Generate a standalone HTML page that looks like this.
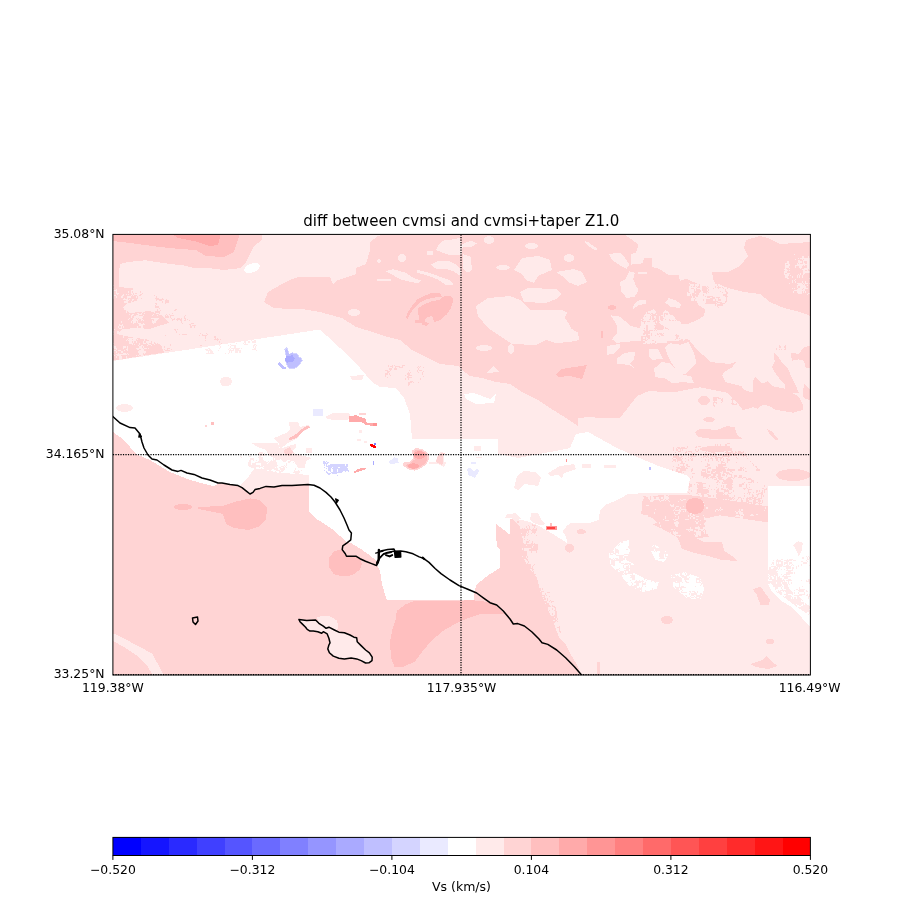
<!DOCTYPE html>
<html lang="en"><head><meta charset="utf-8"><title>diff between cvmsi and cvmsi+taper Z1.0</title>
<style>html,body{margin:0;padding:0;background:#fff;}body{width:900px;height:900px;overflow:hidden;}svg{display:block;}text{font-family:"DejaVu Sans","Liberation Sans",sans-serif;fill:#000;}</style></head><body>
<svg width="900" height="900" viewBox="0 0 900 900">
<rect x="0" y="0" width="900" height="900" fill="#ffffff"/>
<defs><filter id="gr" filterUnits="userSpaceOnUse" x="0" y="0" width="900" height="900" color-interpolation-filters="sRGB"><feColorMatrix type="saturate" values="0"/></filter></defs>
<defs><clipPath id="ax"><rect x="112.9" y="234.4" width="697.5" height="440.6"/></clipPath></defs>
<g clip-path="url(#ax)" shape-rendering="crispEdges">
<rect x="112.9" y="234.4" width="697.5" height="440.6" fill="#ffeaea"/>
<polygon points="113,432 124,440 136,454 150,460 170,472 190,480 214,486.4 218,483.6 222,483 230,484.4 238,485.6 242,487.6 247,491.6 250,494 253,492.4 255,489.6 260,488.4 266,486.4 274,487 282,485.6 292,485.6 300,485 309,484.6 400,500 497,500 513,520 520,527 523,540 522,556 528,566 537,578.8 541,593.3 547.8,609 554.4,624.4 559,637.8 565.6,644.4 570,653.3 576.7,664.4 582,676 113,676" fill="#ffd4d4"/>
<polygon points="113,234 262,234 262,240 254,246 248,258 245.1,263.8 239.8,268.2 223.8,270 209.6,268.2 195.3,268.2 184.7,265.6 168.7,263.8 156.2,262 145.6,260.2 127.8,262 120.7,263.8 119,270 119,287 137,289 138,300 126,304 123,308 130,313 150,311 163,316 169,323 155,327 150,329 137,328 123,329 117,334 130,337 150,340 161,345 164,352.5 113,360.5" fill="#ffd4d4"/>
<path d="M113.0 285.0h1.2v1.30h-1.2zM113.0 287.5h1.2v1.30h-1.2zM115.5 288.8h1.2v1.30h-1.2zM133.0 288.8h3.8v1.30h-3.8zM113.0 290.0h3.8v1.30h-3.8zM130.5 290.0h6.2v1.30h-6.2zM113.0 291.2h1.2v1.30h-1.2zM115.5 291.2h1.2v1.30h-1.2zM128.0 291.2h1.2v1.30h-1.2zM130.5 291.2h1.2v1.30h-1.2zM133.0 291.2h3.8v1.30h-3.8zM113.0 292.5h1.2v1.30h-1.2zM115.5 292.5h3.8v1.30h-3.8zM130.5 292.5h2.5v1.30h-2.5zM134.2 292.5h1.2v1.30h-1.2zM113.0 293.8h1.2v1.30h-1.2zM116.8 293.8h1.2v1.30h-1.2zM123.0 293.8h1.2v1.30h-1.2zM125.5 293.8h1.2v1.30h-1.2zM128.0 293.8h1.2v1.30h-1.2zM131.8 293.8h1.2v1.30h-1.2zM134.2 293.8h3.8v1.30h-3.8zM113.0 295.0h2.5v1.30h-2.5zM121.8 295.0h2.5v1.30h-2.5zM130.5 295.0h1.2v1.30h-1.2zM133.0 295.0h1.2v1.30h-1.2zM136.8 295.0h1.2v1.30h-1.2zM113.0 296.2h1.2v1.30h-1.2zM115.5 296.2h1.2v1.30h-1.2zM120.5 296.2h2.5v1.30h-2.5zM126.8 296.2h3.8v1.30h-3.8zM135.5 296.2h1.2v1.30h-1.2zM113.0 297.5h1.2v1.30h-1.2zM124.2 297.5h1.2v1.30h-1.2zM126.8 297.5h1.2v1.30h-1.2zM123.0 298.8h5.0v1.30h-5.0zM129.2 298.8h1.2v1.30h-1.2zM131.8 298.8h2.5v1.30h-2.5zM136.8 298.8h1.2v1.30h-1.2zM125.5 300.0h3.8v1.30h-3.8zM131.8 300.0h1.2v1.30h-1.2zM124.2 301.2h3.8v1.30h-3.8zM130.5 301.2h1.2v1.30h-1.2zM126.8 302.5h1.2v1.30h-1.2zM124.2 308.8h1.2v1.30h-1.2zM125.5 311.2h1.2v1.30h-1.2zM141.8 311.2h1.2v1.30h-1.2zM136.8 312.5h2.5v1.30h-2.5zM140.5 312.5h1.2v1.30h-1.2zM144.2 312.5h1.2v1.30h-1.2zM129.2 313.8h1.2v1.30h-1.2zM131.8 313.8h2.5v1.30h-2.5zM138.0 313.8h3.8v1.30h-3.8zM153.0 313.8h1.2v1.30h-1.2zM130.5 315.0h2.5v1.30h-2.5zM135.5 315.0h3.8v1.30h-3.8zM143.0 315.0h1.2v1.30h-1.2zM151.8 315.0h1.2v1.30h-1.2zM156.8 315.0h1.2v1.30h-1.2zM130.5 316.2h1.2v1.30h-1.2zM134.2 316.2h8.8v1.30h-8.8zM129.2 317.5h1.2v1.30h-1.2zM133.0 317.5h2.5v1.30h-2.5zM136.8 317.5h1.2v1.30h-1.2zM139.2 317.5h2.5v1.30h-2.5zM150.5 317.5h8.8v1.30h-8.8zM128.0 318.8h1.2v1.30h-1.2zM133.0 318.8h3.8v1.30h-3.8zM138.0 318.8h1.2v1.30h-1.2zM140.5 318.8h2.5v1.30h-2.5zM154.2 318.8h3.8v1.30h-3.8zM131.8 320.0h6.2v1.30h-6.2zM140.5 320.0h1.2v1.30h-1.2zM143.0 320.0h1.2v1.30h-1.2zM151.8 320.0h1.2v1.30h-1.2zM154.2 320.0h2.5v1.30h-2.5zM120.5 321.2h1.2v1.30h-1.2zM130.5 321.2h1.2v1.30h-1.2zM133.0 321.2h2.5v1.30h-2.5zM136.8 321.2h1.2v1.30h-1.2zM151.8 321.2h3.8v1.30h-3.8zM133.0 322.5h1.2v1.30h-1.2zM138.0 322.5h2.5v1.30h-2.5zM143.0 322.5h1.2v1.30h-1.2zM153.0 322.5h1.2v1.30h-1.2zM119.2 323.8h1.2v1.30h-1.2zM121.8 323.8h1.2v1.30h-1.2zM139.2 323.8h6.2v1.30h-6.2zM119.2 325.0h3.8v1.30h-3.8zM139.2 325.0h3.8v1.30h-3.8zM118.0 326.2h1.2v1.30h-1.2zM120.5 326.2h1.2v1.30h-1.2zM123.0 326.2h1.2v1.30h-1.2zM136.8 326.2h1.2v1.30h-1.2zM140.5 326.2h2.5v1.30h-2.5zM119.2 327.5h2.5v1.30h-2.5zM133.0 327.5h2.5v1.30h-2.5zM138.0 327.5h2.5v1.30h-2.5zM141.8 327.5h1.2v1.30h-1.2zM114.2 328.8h1.2v1.30h-1.2zM121.8 328.8h1.2v1.30h-1.2zM113.0 331.2h1.2v1.30h-1.2zM116.8 331.2h2.5v1.30h-2.5zM116.8 332.5h1.2v1.30h-1.2zM113.0 333.8h1.2v1.30h-1.2zM123.0 336.2h1.2v1.30h-1.2zM128.0 337.5h8.8v1.30h-8.8zM126.8 338.8h1.2v1.30h-1.2zM129.2 338.8h2.5v1.30h-2.5zM133.0 338.8h2.5v1.30h-2.5zM136.8 338.8h1.2v1.30h-1.2zM144.2 338.8h1.2v1.30h-1.2zM125.5 340.0h1.2v1.30h-1.2zM128.0 340.0h7.5v1.30h-7.5zM144.2 340.0h1.2v1.30h-1.2zM149.2 340.0h2.5v1.30h-2.5zM129.2 341.2h2.5v1.30h-2.5zM133.0 341.2h1.2v1.30h-1.2zM135.5 341.2h1.2v1.30h-1.2zM143.0 341.2h1.2v1.30h-1.2zM145.5 341.2h5.0v1.30h-5.0zM151.8 341.2h2.5v1.30h-2.5zM113.0 342.5h1.2v1.30h-1.2zM129.2 342.5h3.8v1.30h-3.8zM139.2 342.5h1.2v1.30h-1.2zM143.0 342.5h2.5v1.30h-2.5zM146.8 342.5h2.5v1.30h-2.5zM151.8 342.5h2.5v1.30h-2.5zM155.5 342.5h1.2v1.30h-1.2zM131.8 343.8h1.2v1.30h-1.2zM134.2 343.8h1.2v1.30h-1.2zM139.2 343.8h1.2v1.30h-1.2zM148.0 343.8h2.5v1.30h-2.5zM154.2 343.8h1.2v1.30h-1.2zM113.0 345.0h1.2v1.30h-1.2zM138.0 345.0h1.2v1.30h-1.2zM140.5 345.0h2.5v1.30h-2.5zM146.8 345.0h1.2v1.30h-1.2zM150.5 345.0h1.2v1.30h-1.2zM113.0 346.2h2.5v1.30h-2.5zM123.0 346.2h2.5v1.30h-2.5zM126.8 346.2h1.2v1.30h-1.2zM139.2 346.2h2.5v1.30h-2.5zM143.0 346.2h1.2v1.30h-1.2zM114.2 347.5h2.5v1.30h-2.5zM123.0 347.5h1.2v1.30h-1.2zM126.8 347.5h1.2v1.30h-1.2zM135.5 347.5h7.5v1.30h-7.5zM144.2 347.5h2.5v1.30h-2.5zM148.0 347.5h1.2v1.30h-1.2zM115.5 348.8h1.2v1.30h-1.2zM125.5 348.8h2.5v1.30h-2.5zM136.8 348.8h2.5v1.30h-2.5zM140.5 348.8h3.8v1.30h-3.8zM113.0 350.0h2.5v1.30h-2.5zM118.0 350.0h2.5v1.30h-2.5zM124.2 350.0h1.2v1.30h-1.2zM126.8 350.0h1.2v1.30h-1.2zM139.2 350.0h5.0v1.30h-5.0zM113.0 351.2h1.2v1.30h-1.2zM115.5 351.2h1.2v1.30h-1.2zM120.5 351.2h2.5v1.30h-2.5zM138.0 351.2h7.5v1.30h-7.5zM118.0 352.5h1.2v1.30h-1.2zM123.0 352.5h2.5v1.30h-2.5zM126.8 352.5h1.2v1.30h-1.2zM139.2 352.5h3.8v1.30h-3.8zM144.2 352.5h1.2v1.30h-1.2zM113.0 353.8h1.2v1.30h-1.2zM115.5 353.8h11.2v1.30h-11.2zM128.0 353.8h1.2v1.30h-1.2zM139.2 353.8h3.8v1.30h-3.8zM114.2 355.0h1.2v1.30h-1.2zM116.8 355.0h3.8v1.30h-3.8zM135.5 355.0h1.2v1.30h-1.2zM138.0 355.0h1.2v1.30h-1.2zM140.5 355.0h3.8v1.30h-3.8zM115.5 356.2h1.2v1.30h-1.2zM119.2 356.2h2.5v1.30h-2.5zM125.5 356.2h1.2v1.30h-1.2zM119.2 357.5h2.5v1.30h-2.5z" fill="#ffeaea"/>
<path d="M139.8 291.2h1.2v1.30h-1.2zM142.2 292.5h1.2v1.30h-1.2zM139.8 293.8h2.5v1.30h-2.5zM138.5 295.0h2.5v1.30h-2.5zM153.5 295.0h1.2v1.30h-1.2zM156.0 296.2h1.2v1.30h-1.2zM141.0 297.5h1.2v1.30h-1.2zM154.8 297.5h3.8v1.30h-3.8zM162.2 297.5h1.2v1.30h-1.2zM156.0 298.8h7.5v1.30h-7.5zM166.0 298.8h1.2v1.30h-1.2zM156.0 300.0h1.2v1.30h-1.2zM158.5 300.0h3.8v1.30h-3.8zM164.8 300.0h3.8v1.30h-3.8zM162.2 301.2h1.2v1.30h-1.2zM164.8 301.2h3.8v1.30h-3.8zM154.8 302.5h2.5v1.30h-2.5zM164.8 302.5h1.2v1.30h-1.2zM156.0 303.8h1.2v1.30h-1.2zM154.8 305.0h1.2v1.30h-1.2zM154.8 306.2h3.8v1.30h-3.8zM158.5 307.5h1.2v1.30h-1.2zM157.2 308.8h1.2v1.30h-1.2zM174.8 308.8h2.5v1.30h-2.5zM157.2 310.0h1.2v1.30h-1.2zM159.8 310.0h1.2v1.30h-1.2zM173.5 310.0h2.5v1.30h-2.5zM154.8 311.2h5.0v1.30h-5.0zM158.5 312.5h1.2v1.30h-1.2zM172.2 312.5h1.2v1.30h-1.2zM166.0 313.8h1.2v1.30h-1.2zM168.5 313.8h1.2v1.30h-1.2zM164.8 315.0h1.2v1.30h-1.2zM167.2 315.0h1.2v1.30h-1.2zM169.8 315.0h3.8v1.30h-3.8zM184.8 315.0h1.2v1.30h-1.2zM164.8 316.2h3.8v1.30h-3.8zM169.8 316.2h1.2v1.30h-1.2zM183.5 316.2h1.2v1.30h-1.2zM171.0 317.5h1.2v1.30h-1.2zM173.5 317.5h1.2v1.30h-1.2zM177.2 317.5h2.5v1.30h-2.5zM181.0 317.5h1.2v1.30h-1.2zM183.5 317.5h2.5v1.30h-2.5zM172.2 318.8h2.5v1.30h-2.5zM176.0 318.8h6.2v1.30h-6.2zM184.8 318.8h1.2v1.30h-1.2zM187.2 318.8h1.2v1.30h-1.2zM172.2 320.0h1.2v1.30h-1.2zM177.2 320.0h1.2v1.30h-1.2zM179.8 320.0h2.5v1.30h-2.5zM183.5 320.0h2.5v1.30h-2.5zM188.5 320.0h1.2v1.30h-1.2zM181.0 321.2h1.2v1.30h-1.2zM182.2 322.5h1.2v1.30h-1.2zM191.0 322.5h2.5v1.30h-2.5zM188.5 323.8h2.5v1.30h-2.5zM189.8 325.0h1.2v1.30h-1.2zM192.2 325.0h3.8v1.30h-3.8zM189.8 326.2h2.5v1.30h-2.5zM193.5 326.2h1.2v1.30h-1.2zM173.5 328.8h2.5v1.30h-2.5zM177.2 328.8h1.2v1.30h-1.2zM174.8 330.0h1.2v1.30h-1.2zM176.0 331.2h1.2v1.30h-1.2zM199.8 332.5h1.2v1.30h-1.2zM206.0 332.5h1.2v1.30h-1.2zM178.5 333.8h1.2v1.30h-1.2zM182.2 333.8h5.0v1.30h-5.0zM202.2 333.8h1.2v1.30h-1.2zM207.2 333.8h1.2v1.30h-1.2zM164.8 335.0h1.2v1.30h-1.2zM198.5 335.0h1.2v1.30h-1.2zM202.2 335.0h5.0v1.30h-5.0zM204.8 336.2h1.2v1.30h-1.2zM213.5 336.2h2.5v1.30h-2.5zM204.8 337.5h1.2v1.30h-1.2zM214.8 337.5h1.2v1.30h-1.2zM217.2 337.5h1.2v1.30h-1.2zM213.5 338.8h5.0v1.30h-5.0zM219.8 338.8h1.2v1.30h-1.2zM204.8 340.0h1.2v1.30h-1.2zM217.2 340.0h1.2v1.30h-1.2zM218.5 341.2h1.2v1.30h-1.2zM221.0 342.5h1.2v1.30h-1.2zM169.8 343.8h1.2v1.30h-1.2zM169.8 345.0h1.2v1.30h-1.2zM199.8 345.0h2.5v1.30h-2.5zM163.5 346.2h1.2v1.30h-1.2zM167.2 347.5h2.5v1.30h-2.5zM163.5 348.8h1.2v1.30h-1.2zM167.2 348.8h1.2v1.30h-1.2zM171.0 348.8h1.2v1.30h-1.2zM164.8 350.0h5.0v1.30h-5.0z" fill="#ffd4d4"/>
<polygon points="384,234 624,234 633.3,240.7 638.7,244.7 636,252.7 630.7,254 630.7,264.7 642.7,263.3 644,258 652,258 652,266.7 660,269.3 668,274.7 678.7,275.3 680,280.7 686.7,278.7 693.3,282 700,284.7 700.7,291.3 696,300 698.7,305.3 705.3,309.3 704,316 697.3,320 690.7,322.7 684,326 680,322.7 666.7,320 658.7,322.7 666.7,328 673.3,332 680,336 689.3,340 694,346 700,352.7 705.3,356.7 710.7,362 729.3,364 736,362 732,367.3 725.3,371.3 722,375.3 725.3,382 741.3,386 744,390 753.3,392.7 756,400.7 753.3,407.3 742.7,410 738.7,404.7 726.7,392.7 713.3,390 700,387.3 690,389 673,392.5 649,391 637,396 620,418 600,418 590,417 578,418 578,426 566,418 550,408 538,400 522,392 510,384 496,382 482,378 470,376 462,370 458,366 440,364 424,356 412,350 400,340 384,336 366,330 356,327 342,318 320,312 302,309 290,309 274,308 264,302 268,292 282,284 290,280 298,277 330,277 333,284 338,280 356,274 356,268 366,264 370,250 370,242 378,236" fill="#ffd4d4"/>
<polygon points="810.5,242 780,244 768,238 760,236 746,240 744,248 748,256 740,266 728,272 712,272 714,282 728,288 744,292 760,294 770,302 784,308 800,312 810.5,316" fill="#ffd4d4"/>
<path d="M794.0 253.8h1.2v1.30h-1.2zM801.5 256.2h2.5v1.30h-2.5zM807.8 256.2h1.2v1.30h-1.2zM797.8 257.5h1.2v1.30h-1.2zM800.2 257.5h10.0v1.30h-10.0zM795.2 258.8h1.2v1.30h-1.2zM801.5 258.8h1.2v1.30h-1.2zM804.0 258.8h6.2v1.30h-6.2zM797.8 260.0h2.5v1.30h-2.5zM802.8 260.0h7.5v1.30h-7.5zM786.5 261.2h2.5v1.30h-2.5zM797.8 261.2h3.8v1.30h-3.8zM802.8 261.2h1.2v1.30h-1.2zM806.5 261.2h3.8v1.30h-3.8zM785.2 262.5h3.8v1.30h-3.8zM796.5 262.5h1.2v1.30h-1.2zM799.0 262.5h1.2v1.30h-1.2zM802.8 262.5h2.5v1.30h-2.5zM806.5 262.5h3.8v1.30h-3.8zM785.2 263.8h1.2v1.30h-1.2zM787.8 263.8h2.5v1.30h-2.5zM796.5 263.8h13.8v1.30h-13.8zM785.2 265.0h5.0v1.30h-5.0zM795.2 265.0h7.5v1.30h-7.5zM804.0 265.0h1.2v1.30h-1.2zM806.5 265.0h3.8v1.30h-3.8zM785.2 266.2h3.8v1.30h-3.8zM795.2 266.2h1.2v1.30h-1.2zM799.0 266.2h2.5v1.30h-2.5zM806.5 266.2h3.8v1.30h-3.8zM785.2 267.5h1.2v1.30h-1.2zM789.0 267.5h1.2v1.30h-1.2zM800.2 267.5h1.2v1.30h-1.2zM804.0 267.5h6.2v1.30h-6.2zM784.0 268.8h2.5v1.30h-2.5zM801.5 268.8h6.2v1.30h-6.2zM809.0 268.8h1.2v1.30h-1.2zM785.2 270.0h2.5v1.30h-2.5zM789.0 270.0h1.2v1.30h-1.2zM802.8 270.0h2.5v1.30h-2.5zM806.5 270.0h1.2v1.30h-1.2zM784.0 271.2h2.5v1.30h-2.5zM802.8 271.2h7.5v1.30h-7.5zM784.0 272.5h1.2v1.30h-1.2zM786.5 272.5h3.8v1.30h-3.8zM800.2 272.5h1.2v1.30h-1.2zM802.8 272.5h2.5v1.30h-2.5zM784.0 273.8h5.0v1.30h-5.0zM797.8 273.8h1.2v1.30h-1.2zM800.2 273.8h1.2v1.30h-1.2zM802.8 273.8h1.2v1.30h-1.2zM785.2 275.0h3.8v1.30h-3.8zM790.2 275.0h1.2v1.30h-1.2zM796.5 275.0h1.2v1.30h-1.2zM799.0 275.0h1.2v1.30h-1.2zM801.5 275.0h1.2v1.30h-1.2zM785.2 276.2h2.5v1.30h-2.5zM791.5 276.2h1.2v1.30h-1.2zM796.5 276.2h1.2v1.30h-1.2zM799.0 276.2h1.2v1.30h-1.2zM801.5 276.2h1.2v1.30h-1.2zM786.5 277.5h2.5v1.30h-2.5zM809.0 277.5h1.2v1.30h-1.2zM795.2 278.8h1.2v1.30h-1.2zM791.5 280.0h1.2v1.30h-1.2zM794.0 280.0h1.2v1.30h-1.2zM791.5 281.2h1.2v1.30h-1.2zM795.2 281.2h1.2v1.30h-1.2zM801.5 281.2h1.2v1.30h-1.2zM805.2 281.2h1.2v1.30h-1.2zM789.0 282.5h1.2v1.30h-1.2zM796.5 282.5h5.0v1.30h-5.0zM802.8 282.5h1.2v1.30h-1.2zM805.2 282.5h2.5v1.30h-2.5zM809.0 282.5h1.2v1.30h-1.2zM797.8 283.8h5.0v1.30h-5.0zM804.0 283.8h1.2v1.30h-1.2zM796.5 285.0h8.8v1.30h-8.8zM806.5 285.0h1.2v1.30h-1.2zM796.5 286.2h1.2v1.30h-1.2zM800.2 286.2h6.2v1.30h-6.2zM791.5 287.5h1.2v1.30h-1.2zM794.0 287.5h1.2v1.30h-1.2zM797.8 287.5h5.0v1.30h-5.0zM804.0 287.5h3.8v1.30h-3.8zM796.5 288.8h5.0v1.30h-5.0zM802.8 288.8h2.5v1.30h-2.5zM794.0 290.0h11.2v1.30h-11.2zM792.8 291.2h1.2v1.30h-1.2zM796.5 291.2h5.0v1.30h-5.0zM802.8 291.2h1.2v1.30h-1.2zM805.2 291.2h1.2v1.30h-1.2zM797.8 292.5h3.8v1.30h-3.8zM807.8 292.5h2.5v1.30h-2.5zM806.5 293.8h1.2v1.30h-1.2z" fill="#ffeaea"/>
<path d="M688.5 283.0h1.2v1.30h-1.2zM689.8 284.2h3.8v1.30h-3.8zM694.8 284.2h3.8v1.30h-3.8zM688.5 285.5h2.5v1.30h-2.5zM692.2 285.5h1.2v1.30h-1.2zM694.8 285.5h1.2v1.30h-1.2zM697.2 285.5h1.2v1.30h-1.2zM688.5 286.8h8.8v1.30h-8.8zM688.5 288.0h2.5v1.30h-2.5zM693.5 288.0h2.5v1.30h-2.5zM697.2 288.0h2.5v1.30h-2.5zM688.5 289.2h5.0v1.30h-5.0zM694.8 289.2h1.2v1.30h-1.2zM688.5 290.5h5.0v1.30h-5.0zM687.2 291.8h1.2v1.30h-1.2zM689.8 291.8h3.8v1.30h-3.8zM687.2 293.0h5.0v1.30h-5.0zM694.8 293.0h1.2v1.30h-1.2zM687.2 294.2h2.5v1.30h-2.5zM691.0 294.2h1.2v1.30h-1.2zM692.2 295.5h1.2v1.30h-1.2zM694.8 295.5h1.2v1.30h-1.2zM692.2 296.8h1.2v1.30h-1.2zM694.8 296.8h2.5v1.30h-2.5zM691.0 298.0h3.8v1.30h-3.8zM696.0 298.0h1.2v1.30h-1.2zM691.0 299.2h2.5v1.30h-2.5zM694.8 299.2h1.2v1.30h-1.2z" fill="#ffeaea"/>
<path d="M652.5 308.7h1.2v1.30h-1.2zM651.2 309.9h3.8v1.30h-3.8zM665.0 309.9h1.2v1.30h-1.2zM647.5 311.2h8.8v1.30h-8.8zM663.8 311.2h3.8v1.30h-3.8zM646.2 312.4h1.2v1.30h-1.2zM650.0 312.4h1.2v1.30h-1.2zM652.5 312.4h2.5v1.30h-2.5zM662.5 312.4h1.2v1.30h-1.2zM667.5 312.4h1.2v1.30h-1.2zM645.0 313.7h5.0v1.30h-5.0zM651.2 313.7h1.2v1.30h-1.2zM656.2 313.7h1.2v1.30h-1.2zM662.5 313.7h1.2v1.30h-1.2zM665.0 313.7h1.2v1.30h-1.2zM667.5 313.7h2.5v1.30h-2.5zM643.8 314.9h7.5v1.30h-7.5zM661.2 314.9h2.5v1.30h-2.5zM665.0 314.9h7.5v1.30h-7.5zM643.8 316.2h1.2v1.30h-1.2zM646.2 316.2h3.8v1.30h-3.8zM651.2 316.2h1.2v1.30h-1.2zM653.8 316.2h2.5v1.30h-2.5zM658.8 316.2h1.2v1.30h-1.2zM662.5 316.2h1.2v1.30h-1.2zM665.0 316.2h8.8v1.30h-8.8zM642.5 317.4h7.5v1.30h-7.5zM651.2 317.4h1.2v1.30h-1.2zM655.0 317.4h1.2v1.30h-1.2zM658.8 317.4h1.2v1.30h-1.2zM663.8 317.4h11.2v1.30h-11.2zM641.2 318.7h1.2v1.30h-1.2zM643.8 318.7h5.0v1.30h-5.0zM651.2 318.7h1.2v1.30h-1.2zM653.8 318.7h1.2v1.30h-1.2zM658.8 318.7h1.2v1.30h-1.2zM662.5 318.7h2.5v1.30h-2.5zM666.2 318.7h2.5v1.30h-2.5zM670.0 318.7h6.2v1.30h-6.2zM642.5 319.9h11.2v1.30h-11.2zM658.8 319.9h2.5v1.30h-2.5zM662.5 319.9h5.0v1.30h-5.0zM671.2 319.9h1.2v1.30h-1.2zM673.8 319.9h1.2v1.30h-1.2zM676.2 319.9h1.2v1.30h-1.2zM641.2 321.2h1.2v1.30h-1.2zM646.2 321.2h1.2v1.30h-1.2zM650.0 321.2h2.5v1.30h-2.5zM656.2 321.2h1.2v1.30h-1.2zM660.0 321.2h6.2v1.30h-6.2zM667.5 321.2h1.2v1.30h-1.2zM671.2 321.2h8.8v1.30h-8.8zM641.2 322.4h2.5v1.30h-2.5zM645.0 322.4h10.0v1.30h-10.0zM661.2 322.4h1.2v1.30h-1.2zM666.2 322.4h1.2v1.30h-1.2zM671.2 322.4h10.0v1.30h-10.0zM641.2 323.7h15.0v1.30h-15.0zM661.2 323.7h2.5v1.30h-2.5zM665.0 323.7h3.8v1.30h-3.8zM672.5 323.7h15.0v1.30h-15.0zM641.2 324.9h5.0v1.30h-5.0zM647.5 324.9h6.2v1.30h-6.2zM662.5 324.9h2.5v1.30h-2.5zM670.0 324.9h1.2v1.30h-1.2zM672.5 324.9h12.5v1.30h-12.5zM640.0 326.2h6.2v1.30h-6.2zM647.5 326.2h7.5v1.30h-7.5zM671.2 326.2h12.5v1.30h-12.5zM640.0 327.4h3.8v1.30h-3.8zM645.0 327.4h1.2v1.30h-1.2zM647.5 327.4h6.2v1.30h-6.2zM663.8 327.4h1.2v1.30h-1.2zM667.5 327.4h2.5v1.30h-2.5zM671.2 327.4h13.8v1.30h-13.8zM640.0 328.7h6.2v1.30h-6.2zM647.5 328.7h7.5v1.30h-7.5zM656.2 328.7h1.2v1.30h-1.2zM662.5 328.7h5.0v1.30h-5.0zM670.0 328.7h15.0v1.30h-15.0zM640.0 329.9h2.5v1.30h-2.5zM645.0 329.9h1.2v1.30h-1.2zM647.5 329.9h1.2v1.30h-1.2zM652.5 329.9h1.2v1.30h-1.2zM655.0 329.9h1.2v1.30h-1.2zM665.0 329.9h16.2v1.30h-16.2zM682.5 329.9h2.5v1.30h-2.5zM640.0 331.2h3.8v1.30h-3.8zM650.0 331.2h2.5v1.30h-2.5zM653.8 331.2h1.2v1.30h-1.2zM661.2 331.2h1.2v1.30h-1.2zM665.0 331.2h15.0v1.30h-15.0zM681.2 331.2h5.0v1.30h-5.0zM640.0 332.4h2.5v1.30h-2.5zM663.8 332.4h1.2v1.30h-1.2zM666.2 332.4h13.8v1.30h-13.8zM681.2 332.4h1.2v1.30h-1.2zM683.8 332.4h2.5v1.30h-2.5zM640.0 333.7h2.5v1.30h-2.5zM645.0 333.7h1.2v1.30h-1.2zM652.5 333.7h3.8v1.30h-3.8zM658.8 333.7h1.2v1.30h-1.2zM662.5 333.7h13.8v1.30h-13.8zM677.5 333.7h5.0v1.30h-5.0zM683.8 333.7h1.2v1.30h-1.2zM640.0 334.9h6.2v1.30h-6.2zM650.0 334.9h1.2v1.30h-1.2zM653.8 334.9h1.2v1.30h-1.2zM657.5 334.9h3.8v1.30h-3.8zM663.8 334.9h11.2v1.30h-11.2zM678.8 334.9h2.5v1.30h-2.5zM682.5 334.9h2.5v1.30h-2.5zM686.2 334.9h1.2v1.30h-1.2zM640.0 336.2h1.2v1.30h-1.2zM650.0 336.2h1.2v1.30h-1.2zM652.5 336.2h1.2v1.30h-1.2zM656.2 336.2h2.5v1.30h-2.5zM660.0 336.2h2.5v1.30h-2.5zM663.8 336.2h1.2v1.30h-1.2zM666.2 336.2h10.0v1.30h-10.0zM678.8 336.2h3.8v1.30h-3.8zM642.5 337.4h2.5v1.30h-2.5zM646.2 337.4h1.2v1.30h-1.2zM653.8 337.4h6.2v1.30h-6.2zM661.2 337.4h2.5v1.30h-2.5zM665.0 337.4h11.2v1.30h-11.2zM677.5 337.4h1.2v1.30h-1.2zM680.0 337.4h6.2v1.30h-6.2zM648.8 338.7h1.2v1.30h-1.2zM652.5 338.7h10.0v1.30h-10.0zM663.8 338.7h11.2v1.30h-11.2zM676.2 338.7h5.0v1.30h-5.0zM682.5 338.7h2.5v1.30h-2.5zM642.5 339.9h2.5v1.30h-2.5zM648.8 339.9h1.2v1.30h-1.2zM651.2 339.9h1.2v1.30h-1.2zM653.8 339.9h6.2v1.30h-6.2zM661.2 339.9h17.5v1.30h-17.5zM682.5 339.9h1.2v1.30h-1.2z" fill="#ffeaea"/>
<polygon points="665.3,302.7 668.7,298 674.7,300 681.3,304 680,308 670.7,306.7" fill="#ffeaea"/>
<path d="M714.5 283.0h2.5v1.30h-2.5zM717.0 284.2h1.2v1.30h-1.2zM702.0 285.5h3.8v1.30h-3.8zM707.0 285.5h1.2v1.30h-1.2zM714.5 285.5h1.2v1.30h-1.2zM718.2 285.5h1.2v1.30h-1.2zM702.0 286.8h5.0v1.30h-5.0zM708.2 286.8h1.2v1.30h-1.2zM714.5 286.8h1.2v1.30h-1.2zM717.0 286.8h3.8v1.30h-3.8zM722.0 286.8h1.2v1.30h-1.2zM702.0 288.0h6.2v1.30h-6.2zM713.2 288.0h1.2v1.30h-1.2zM718.2 288.0h1.2v1.30h-1.2zM723.2 288.0h1.2v1.30h-1.2zM727.0 288.0h1.2v1.30h-1.2zM702.0 289.2h5.0v1.30h-5.0zM708.2 289.2h1.2v1.30h-1.2zM724.5 289.2h1.2v1.30h-1.2zM703.2 290.5h5.0v1.30h-5.0zM719.5 290.5h1.2v1.30h-1.2zM724.5 290.5h2.5v1.30h-2.5zM703.2 291.8h3.8v1.30h-3.8zM708.2 291.8h1.2v1.30h-1.2zM722.0 291.8h1.2v1.30h-1.2zM725.8 291.8h2.5v1.30h-2.5zM705.8 293.0h1.2v1.30h-1.2zM725.8 293.0h2.5v1.30h-2.5zM703.2 294.2h1.2v1.30h-1.2zM723.2 294.2h3.8v1.30h-3.8zM704.5 295.5h1.2v1.30h-1.2zM707.0 295.5h6.2v1.30h-6.2zM724.5 295.5h3.8v1.30h-3.8zM707.0 296.8h2.5v1.30h-2.5zM712.0 296.8h2.5v1.30h-2.5zM715.8 296.8h3.8v1.30h-3.8zM725.8 296.8h1.2v1.30h-1.2zM709.5 298.0h5.0v1.30h-5.0zM718.2 298.0h1.2v1.30h-1.2zM725.8 298.0h1.2v1.30h-1.2zM703.2 299.2h1.2v1.30h-1.2zM705.8 299.2h7.5v1.30h-7.5zM714.5 299.2h1.2v1.30h-1.2zM718.2 299.2h2.5v1.30h-2.5zM725.8 299.2h1.2v1.30h-1.2zM705.8 300.5h12.5v1.30h-12.5zM724.5 300.5h2.5v1.30h-2.5zM705.8 301.8h10.0v1.30h-10.0zM717.0 301.8h5.0v1.30h-5.0zM724.5 301.8h1.2v1.30h-1.2zM704.5 303.0h12.5v1.30h-12.5zM719.5 303.0h5.0v1.30h-5.0zM714.5 304.2h1.2v1.30h-1.2zM717.0 304.2h6.2v1.30h-6.2zM717.0 305.5h1.2v1.30h-1.2zM718.2 306.8h1.2v1.30h-1.2z" fill="#ffd4d4"/>
<polygon points="752.7,380.7 755.3,377.3 758.7,380.7 762.7,383.3 768,381.3 772,386 785.3,388.7 792,392.7 798.7,396.7 802.7,404.7 802.7,410 793.3,412.7 785.3,411.3 776,410 769.3,406 762.7,404.7 757.3,408.7 753.3,407.3 756,400.7 753.3,392.7" fill="#ffd4d4"/>
<polygon points="774,352.7 778,356.7 782.7,363.3 788,368.7 792,378 796,386 798.7,392.7 792,392.7 785.3,388.7 785.3,384.7 780,379.3 776,374 772,367.3 774.7,362" fill="#ffd4d4"/>
<polygon points="790.7,352.7 798.7,354 804,347.3 810.5,345.3 810.5,368.7 805.3,367.3 804,360.7 798.7,359.3 792,360.7" fill="#ffd4d4"/>
<polygon points="804,383.3 810.5,390 810.5,400 806.7,399.3 802.7,396.7" fill="#ffd4d4"/>
<path d="M778.5 345.0h1.2v1.30h-1.2zM784.8 345.0h1.2v1.30h-1.2zM778.5 346.2h2.5v1.30h-2.5zM783.5 346.2h2.5v1.30h-2.5zM776.0 347.5h1.2v1.30h-1.2zM784.8 347.5h1.2v1.30h-1.2zM776.0 348.8h1.2v1.30h-1.2zM778.5 348.8h1.2v1.30h-1.2zM781.0 348.8h1.2v1.30h-1.2zM783.5 348.8h2.5v1.30h-2.5z" fill="#ffd4d4"/>
<path d="M713.0 396.7h6.2v1.30h-6.2zM713.0 397.9h3.8v1.30h-3.8zM718.0 397.9h2.5v1.30h-2.5zM721.8 397.9h1.2v1.30h-1.2zM713.0 399.2h3.8v1.30h-3.8zM720.5 399.2h2.5v1.30h-2.5zM714.2 400.4h1.2v1.30h-1.2zM721.8 400.4h1.2v1.30h-1.2zM713.0 401.7h3.8v1.30h-3.8zM720.5 401.7h1.2v1.30h-1.2zM713.0 402.9h1.2v1.30h-1.2zM715.5 402.9h1.2v1.30h-1.2zM713.0 404.2h1.2v1.30h-1.2zM714.2 405.4h1.2v1.30h-1.2z" fill="#ffd4d4"/>
<path d="M729.2 394.0h1.2v1.30h-1.2zM739.2 394.0h1.2v1.30h-1.2zM744.2 394.0h1.2v1.30h-1.2zM736.8 395.2h2.5v1.30h-2.5zM741.8 395.2h1.2v1.30h-1.2zM745.5 395.2h1.2v1.30h-1.2zM731.8 396.5h1.2v1.30h-1.2zM739.2 396.5h7.5v1.30h-7.5zM731.8 397.8h1.2v1.30h-1.2zM739.2 397.8h7.5v1.30h-7.5zM730.5 399.0h3.8v1.30h-3.8zM735.5 399.0h1.2v1.30h-1.2zM741.8 399.0h2.5v1.30h-2.5zM745.5 399.0h1.2v1.30h-1.2zM731.8 400.2h1.2v1.30h-1.2zM741.8 400.2h5.0v1.30h-5.0zM731.8 401.5h1.2v1.30h-1.2zM736.8 401.5h1.2v1.30h-1.2zM739.2 401.5h2.5v1.30h-2.5zM744.2 401.5h1.2v1.30h-1.2zM730.5 402.8h3.8v1.30h-3.8zM735.5 402.8h1.2v1.30h-1.2zM739.2 402.8h5.0v1.30h-5.0zM745.5 402.8h1.2v1.30h-1.2zM731.8 404.0h5.0v1.30h-5.0zM743.0 404.0h3.8v1.30h-3.8z" fill="#ffd4d4"/>
<path d="M387.8 364.5h1.2v1.30h-1.2zM391.5 364.5h1.2v1.30h-1.2zM394.0 364.5h1.2v1.30h-1.2zM401.5 364.5h3.8v1.30h-3.8zM387.8 365.8h1.2v1.30h-1.2zM390.2 365.8h2.5v1.30h-2.5zM395.2 365.8h5.0v1.30h-5.0zM401.5 365.8h1.2v1.30h-1.2zM417.8 365.8h1.2v1.30h-1.2zM420.2 365.8h1.2v1.30h-1.2zM391.5 367.0h1.2v1.30h-1.2zM395.2 367.0h1.2v1.30h-1.2zM399.0 367.0h3.8v1.30h-3.8zM416.5 367.0h1.2v1.30h-1.2zM419.0 367.0h1.2v1.30h-1.2zM422.8 367.0h1.2v1.30h-1.2zM389.0 368.2h2.5v1.30h-2.5zM394.0 368.2h2.5v1.30h-2.5zM417.8 368.2h1.2v1.30h-1.2zM385.2 369.5h2.5v1.30h-2.5zM390.2 369.5h1.2v1.30h-1.2zM409.0 369.5h1.2v1.30h-1.2zM416.5 369.5h1.2v1.30h-1.2zM419.0 369.5h2.5v1.30h-2.5zM386.5 370.8h3.8v1.30h-3.8zM416.5 370.8h1.2v1.30h-1.2zM422.8 370.8h1.2v1.30h-1.2zM386.5 372.0h2.5v1.30h-2.5zM407.8 372.0h1.2v1.30h-1.2zM410.2 372.0h1.2v1.30h-1.2zM417.8 372.0h1.2v1.30h-1.2zM421.5 372.0h1.2v1.30h-1.2zM385.2 373.2h2.5v1.30h-2.5zM389.0 373.2h1.2v1.30h-1.2zM406.5 373.2h3.8v1.30h-3.8zM421.5 373.2h1.2v1.30h-1.2zM385.2 374.5h1.2v1.30h-1.2zM390.2 374.5h1.2v1.30h-1.2zM405.2 374.5h1.2v1.30h-1.2zM407.8 374.5h3.8v1.30h-3.8zM385.2 375.8h1.2v1.30h-1.2zM406.5 375.8h2.5v1.30h-2.5zM422.8 375.8h1.2v1.30h-1.2zM386.5 377.0h1.2v1.30h-1.2zM406.5 377.0h5.0v1.30h-5.0zM405.2 378.2h1.2v1.30h-1.2zM407.8 378.2h1.2v1.30h-1.2zM420.2 378.2h1.2v1.30h-1.2zM410.2 380.8h2.5v1.30h-2.5zM407.8 382.0h3.8v1.30h-3.8zM412.8 382.0h1.2v1.30h-1.2zM417.8 382.0h1.2v1.30h-1.2zM407.8 383.2h2.5v1.30h-2.5zM407.8 384.5h1.2v1.30h-1.2z" fill="#ffd4d4"/>
<polygon points="643,495.8 687.6,494.9 720,499 767.6,506.4 767.6,522.4 744.4,518.9 719.6,515.3 703.6,518.9 705.3,529.6 708.9,536.7 700,538 693,537.6 678,537.6 676.9,536.7 662.7,529.6 653.8,518.9 641.3,513.6" fill="#ffd4d4"/>
<polygon points="653,524.4 662,520 706.7,520 702,526.7 691,535.6 704.4,542 722,542 724.4,551 733.3,556.7 737.8,561 722,560 706.7,555.6 695.6,553.3 682,549 677.8,537.8 666.7,531" fill="#ffd4d4"/>
<path d="M663.8 494.9h2.5v1.30h-2.5zM667.5 494.9h1.2v1.30h-1.2zM646.3 496.1h3.8v1.30h-3.8zM651.3 496.1h1.2v1.30h-1.2zM663.8 496.1h3.8v1.30h-3.8zM642.5 497.4h1.2v1.30h-1.2zM647.5 497.4h2.5v1.30h-2.5zM651.3 497.4h2.5v1.30h-2.5zM656.3 497.4h2.5v1.30h-2.5zM661.3 497.4h1.2v1.30h-1.2zM663.8 497.4h5.0v1.30h-5.0zM648.8 498.6h1.2v1.30h-1.2zM651.3 498.6h8.8v1.30h-8.8zM662.5 498.6h2.5v1.30h-2.5zM666.3 498.6h1.2v1.30h-1.2zM680.0 498.6h1.2v1.30h-1.2zM682.5 498.6h3.8v1.30h-3.8zM650.0 499.9h3.8v1.30h-3.8zM658.8 499.9h1.2v1.30h-1.2zM661.3 499.9h2.5v1.30h-2.5zM665.0 499.9h1.2v1.30h-1.2zM667.5 499.9h1.2v1.30h-1.2zM681.3 499.9h1.2v1.30h-1.2zM650.0 501.1h2.5v1.30h-2.5zM660.0 501.1h1.2v1.30h-1.2zM668.8 501.1h1.2v1.30h-1.2zM677.5 501.1h1.2v1.30h-1.2zM701.3 501.1h1.2v1.30h-1.2zM702.5 502.4h1.2v1.30h-1.2zM670.0 503.6h1.2v1.30h-1.2zM672.5 503.6h1.2v1.30h-1.2zM686.3 503.6h1.2v1.30h-1.2zM646.3 504.9h2.5v1.30h-2.5zM670.0 504.9h3.8v1.30h-3.8zM703.8 504.9h1.2v1.30h-1.2zM671.3 506.1h2.5v1.30h-2.5zM676.3 506.1h2.5v1.30h-2.5zM682.5 506.1h1.2v1.30h-1.2zM686.3 506.1h1.2v1.30h-1.2zM675.0 507.4h1.2v1.30h-1.2zM680.0 507.4h1.2v1.30h-1.2zM686.3 507.4h1.2v1.30h-1.2zM696.3 507.4h1.2v1.30h-1.2zM706.3 507.4h1.2v1.30h-1.2zM720.0 507.4h1.2v1.30h-1.2zM765.0 507.4h1.2v1.30h-1.2zM655.0 508.6h1.2v1.30h-1.2zM673.8 508.6h1.2v1.30h-1.2zM678.8 508.6h1.2v1.30h-1.2zM681.3 508.6h5.0v1.30h-5.0zM688.8 508.6h1.2v1.30h-1.2zM716.3 508.6h1.2v1.30h-1.2zM718.8 508.6h1.2v1.30h-1.2zM721.3 508.6h1.2v1.30h-1.2zM738.8 508.6h1.2v1.30h-1.2zM741.3 508.6h1.2v1.30h-1.2zM672.5 509.9h1.2v1.30h-1.2zM675.0 509.9h6.2v1.30h-6.2zM685.0 509.9h1.2v1.30h-1.2zM692.5 509.9h1.2v1.30h-1.2zM696.3 509.9h2.5v1.30h-2.5zM715.0 509.9h1.2v1.30h-1.2zM717.5 509.9h1.2v1.30h-1.2zM720.0 509.9h1.2v1.30h-1.2zM738.8 509.9h1.2v1.30h-1.2zM741.3 509.9h1.2v1.30h-1.2zM763.8 509.9h1.2v1.30h-1.2zM678.8 511.1h2.5v1.30h-2.5zM682.5 511.1h1.2v1.30h-1.2zM685.0 511.1h1.2v1.30h-1.2zM687.5 511.1h2.5v1.30h-2.5zM691.3 511.1h2.5v1.30h-2.5zM695.0 511.1h2.5v1.30h-2.5zM715.0 511.1h1.2v1.30h-1.2zM735.0 511.1h1.2v1.30h-1.2zM737.5 511.1h3.8v1.30h-3.8zM653.8 512.4h1.2v1.30h-1.2zM673.8 512.4h1.2v1.30h-1.2zM677.5 512.4h2.5v1.30h-2.5zM690.0 512.4h3.8v1.30h-3.8zM736.3 512.4h1.2v1.30h-1.2zM738.8 512.4h3.8v1.30h-3.8zM675.0 513.6h2.5v1.30h-2.5zM690.0 513.6h1.2v1.30h-1.2zM692.5 513.6h1.2v1.30h-1.2zM740.0 513.6h3.8v1.30h-3.8zM751.3 513.6h1.2v1.30h-1.2zM756.3 513.6h1.2v1.30h-1.2zM646.3 514.9h1.2v1.30h-1.2zM687.5 514.9h1.2v1.30h-1.2zM690.0 514.9h1.2v1.30h-1.2zM692.5 514.9h2.5v1.30h-2.5zM702.5 514.9h1.2v1.30h-1.2zM736.3 514.9h2.5v1.30h-2.5zM740.0 514.9h1.2v1.30h-1.2zM742.5 514.9h1.2v1.30h-1.2zM750.0 514.9h3.8v1.30h-3.8zM665.0 516.1h1.2v1.30h-1.2zM675.0 516.1h1.2v1.30h-1.2zM677.5 516.1h1.2v1.30h-1.2zM687.5 516.1h1.2v1.30h-1.2zM691.3 516.1h1.2v1.30h-1.2zM696.3 516.1h2.5v1.30h-2.5zM735.0 516.1h7.5v1.30h-7.5zM665.0 517.4h1.2v1.30h-1.2zM677.5 517.4h1.2v1.30h-1.2zM690.0 517.4h1.2v1.30h-1.2zM692.5 517.4h2.5v1.30h-2.5zM703.8 517.4h1.2v1.30h-1.2zM740.0 517.4h2.5v1.30h-2.5zM662.5 518.6h1.2v1.30h-1.2zM672.5 518.6h1.2v1.30h-1.2zM675.0 518.6h2.5v1.30h-2.5zM685.0 518.6h3.8v1.30h-3.8zM696.3 518.6h1.2v1.30h-1.2zM665.0 519.9h3.8v1.30h-3.8zM673.8 519.9h2.5v1.30h-2.5zM700.0 519.9h1.2v1.30h-1.2zM676.3 521.1h1.2v1.30h-1.2zM695.0 521.1h1.2v1.30h-1.2zM697.5 521.1h1.2v1.30h-1.2zM658.8 522.4h1.2v1.30h-1.2zM673.8 522.4h5.0v1.30h-5.0zM696.3 522.4h1.2v1.30h-1.2zM675.0 523.6h2.5v1.30h-2.5zM700.0 523.6h1.2v1.30h-1.2zM660.0 524.9h1.2v1.30h-1.2zM675.0 524.9h2.5v1.30h-2.5zM660.0 526.1h1.2v1.30h-1.2zM676.3 526.1h1.2v1.30h-1.2zM697.5 526.1h1.2v1.30h-1.2zM690.0 527.4h1.2v1.30h-1.2zM695.0 527.4h5.0v1.30h-5.0zM702.5 527.4h2.5v1.30h-2.5zM671.3 528.6h1.2v1.30h-1.2zM673.8 528.6h1.2v1.30h-1.2zM686.3 528.6h6.2v1.30h-6.2zM697.5 528.6h6.2v1.30h-6.2zM687.5 529.9h1.2v1.30h-1.2zM690.0 529.9h2.5v1.30h-2.5zM693.8 529.9h2.5v1.30h-2.5zM697.5 529.9h1.2v1.30h-1.2zM701.3 529.9h1.2v1.30h-1.2zM703.8 529.9h1.2v1.30h-1.2zM672.5 531.1h1.2v1.30h-1.2zM675.0 531.1h1.2v1.30h-1.2zM688.8 531.1h1.2v1.30h-1.2zM693.8 531.1h7.5v1.30h-7.5zM702.5 531.1h2.5v1.30h-2.5zM670.0 532.4h1.2v1.30h-1.2zM672.5 532.4h5.0v1.30h-5.0zM696.3 532.4h5.0v1.30h-5.0zM703.8 532.4h1.2v1.30h-1.2zM706.3 532.4h1.2v1.30h-1.2zM673.8 533.6h2.5v1.30h-2.5zM693.8 533.6h1.2v1.30h-1.2zM696.3 533.6h5.0v1.30h-5.0zM675.0 534.9h6.2v1.30h-6.2zM695.0 534.9h2.5v1.30h-2.5zM698.8 534.9h2.5v1.30h-2.5zM678.8 536.1h1.2v1.30h-1.2zM695.0 536.1h2.5v1.30h-2.5z" fill="#ffeaea"/>
<path d="M726.8 474.0h1.2v1.30h-1.2zM729.2 474.0h2.5v1.30h-2.5zM725.5 475.2h1.2v1.30h-1.2zM730.5 475.2h1.2v1.30h-1.2zM734.2 475.2h2.5v1.30h-2.5zM739.2 475.2h2.5v1.30h-2.5zM718.0 476.5h5.0v1.30h-5.0zM728.0 476.5h5.0v1.30h-5.0zM734.2 476.5h1.2v1.30h-1.2zM738.0 476.5h3.8v1.30h-3.8zM743.0 476.5h2.5v1.30h-2.5zM715.5 477.8h1.2v1.30h-1.2zM718.0 477.8h3.8v1.30h-3.8zM726.8 477.8h3.8v1.30h-3.8zM733.0 477.8h1.2v1.30h-1.2zM741.8 477.8h1.2v1.30h-1.2zM745.5 477.8h1.2v1.30h-1.2zM748.0 477.8h2.5v1.30h-2.5zM714.2 479.0h2.5v1.30h-2.5zM719.2 479.0h5.0v1.30h-5.0zM725.5 479.0h6.2v1.30h-6.2zM745.5 479.0h6.2v1.30h-6.2zM716.8 480.2h2.5v1.30h-2.5zM723.0 480.2h10.0v1.30h-10.0zM750.5 480.2h3.8v1.30h-3.8zM695.5 481.5h6.2v1.30h-6.2zM715.5 481.5h2.5v1.30h-2.5zM719.2 481.5h1.2v1.30h-1.2zM721.8 481.5h1.2v1.30h-1.2zM724.2 481.5h8.8v1.30h-8.8zM744.2 481.5h1.2v1.30h-1.2zM748.0 481.5h3.8v1.30h-3.8zM753.0 481.5h1.2v1.30h-1.2zM756.8 481.5h1.2v1.30h-1.2zM689.2 482.8h1.2v1.30h-1.2zM698.0 482.8h7.5v1.30h-7.5zM721.8 482.8h10.0v1.30h-10.0zM741.8 482.8h2.5v1.30h-2.5zM689.2 484.0h2.5v1.30h-2.5zM694.2 484.0h1.2v1.30h-1.2zM696.8 484.0h1.2v1.30h-1.2zM699.2 484.0h3.8v1.30h-3.8zM716.8 484.0h1.2v1.30h-1.2zM726.8 484.0h6.2v1.30h-6.2zM739.2 484.0h5.0v1.30h-5.0zM745.5 484.0h1.2v1.30h-1.2zM749.2 484.0h1.2v1.30h-1.2zM689.2 485.2h2.5v1.30h-2.5zM696.8 485.2h6.2v1.30h-6.2zM709.2 485.2h1.2v1.30h-1.2zM720.5 485.2h1.2v1.30h-1.2zM723.0 485.2h1.2v1.30h-1.2zM725.5 485.2h6.2v1.30h-6.2zM739.2 485.2h2.5v1.30h-2.5zM745.5 485.2h1.2v1.30h-1.2zM764.2 485.2h1.2v1.30h-1.2zM689.2 486.5h1.2v1.30h-1.2zM696.8 486.5h8.8v1.30h-8.8zM715.5 486.5h1.2v1.30h-1.2zM723.0 486.5h1.2v1.30h-1.2zM725.5 486.5h7.5v1.30h-7.5zM745.5 486.5h1.2v1.30h-1.2zM749.2 486.5h1.2v1.30h-1.2zM698.0 487.8h5.0v1.30h-5.0zM708.0 487.8h1.2v1.30h-1.2zM718.0 487.8h1.2v1.30h-1.2zM720.5 487.8h2.5v1.30h-2.5zM728.0 487.8h3.8v1.30h-3.8zM743.0 487.8h2.5v1.30h-2.5zM746.8 487.8h1.2v1.30h-1.2zM761.8 487.8h2.5v1.30h-2.5zM765.5 487.8h1.2v1.30h-1.2zM689.2 489.0h1.2v1.30h-1.2zM696.8 489.0h11.2v1.30h-11.2zM710.5 489.0h1.2v1.30h-1.2zM714.2 489.0h1.2v1.30h-1.2zM716.8 489.0h2.5v1.30h-2.5zM720.5 489.0h5.0v1.30h-5.0zM726.8 489.0h1.2v1.30h-1.2zM729.2 489.0h2.5v1.30h-2.5zM744.2 489.0h1.2v1.30h-1.2zM748.0 489.0h3.8v1.30h-3.8zM764.2 489.0h2.5v1.30h-2.5zM690.5 490.2h1.2v1.30h-1.2zM696.8 490.2h12.5v1.30h-12.5zM715.5 490.2h3.8v1.30h-3.8zM724.2 490.2h5.0v1.30h-5.0zM733.0 490.2h1.2v1.30h-1.2zM748.0 490.2h1.2v1.30h-1.2zM755.5 490.2h2.5v1.30h-2.5zM759.2 490.2h1.2v1.30h-1.2zM761.8 490.2h1.2v1.30h-1.2zM764.2 490.2h1.2v1.30h-1.2zM688.0 491.5h1.2v1.30h-1.2zM696.8 491.5h12.5v1.30h-12.5zM715.5 491.5h7.5v1.30h-7.5zM724.2 491.5h1.2v1.30h-1.2zM728.0 491.5h1.2v1.30h-1.2zM730.5 491.5h1.2v1.30h-1.2zM748.0 491.5h2.5v1.30h-2.5zM753.0 491.5h1.2v1.30h-1.2zM755.5 491.5h1.2v1.30h-1.2zM760.5 491.5h2.5v1.30h-2.5zM764.2 491.5h1.2v1.30h-1.2zM689.2 492.8h1.2v1.30h-1.2zM695.5 492.8h2.5v1.30h-2.5zM700.5 492.8h6.2v1.30h-6.2zM716.8 492.8h7.5v1.30h-7.5zM728.0 492.8h2.5v1.30h-2.5zM744.2 492.8h1.2v1.30h-1.2zM746.8 492.8h1.2v1.30h-1.2zM749.2 492.8h1.2v1.30h-1.2zM758.0 492.8h5.0v1.30h-5.0zM698.0 494.0h1.2v1.30h-1.2zM700.5 494.0h3.8v1.30h-3.8zM706.8 494.0h2.5v1.30h-2.5zM715.5 494.0h7.5v1.30h-7.5zM724.2 494.0h1.2v1.30h-1.2zM726.8 494.0h1.2v1.30h-1.2zM749.2 494.0h1.2v1.30h-1.2zM751.8 494.0h1.2v1.30h-1.2zM755.5 494.0h3.8v1.30h-3.8zM760.5 494.0h2.5v1.30h-2.5zM701.8 495.2h2.5v1.30h-2.5zM708.0 495.2h2.5v1.30h-2.5zM713.0 495.2h1.2v1.30h-1.2zM715.5 495.2h13.8v1.30h-13.8zM734.2 495.2h1.2v1.30h-1.2zM744.2 495.2h1.2v1.30h-1.2zM751.8 495.2h2.5v1.30h-2.5zM756.8 495.2h1.2v1.30h-1.2zM760.5 495.2h1.2v1.30h-1.2zM763.0 495.2h1.2v1.30h-1.2zM715.5 496.5h15.0v1.30h-15.0zM731.8 496.5h2.5v1.30h-2.5zM738.0 496.5h2.5v1.30h-2.5zM746.8 496.5h1.2v1.30h-1.2zM749.2 496.5h3.8v1.30h-3.8zM754.2 496.5h2.5v1.30h-2.5zM760.5 496.5h1.2v1.30h-1.2zM716.8 497.8h16.2v1.30h-16.2zM734.2 497.8h1.2v1.30h-1.2zM738.0 497.8h1.2v1.30h-1.2zM740.5 497.8h1.2v1.30h-1.2zM743.0 497.8h1.2v1.30h-1.2zM745.5 497.8h5.0v1.30h-5.0zM751.8 497.8h3.8v1.30h-3.8zM758.0 497.8h3.8v1.30h-3.8zM724.2 499.0h1.2v1.30h-1.2zM726.8 499.0h1.2v1.30h-1.2zM729.2 499.0h2.5v1.30h-2.5zM733.0 499.0h1.2v1.30h-1.2zM736.8 499.0h1.2v1.30h-1.2zM740.5 499.0h1.2v1.30h-1.2zM745.5 499.0h2.5v1.30h-2.5zM749.2 499.0h2.5v1.30h-2.5zM754.2 499.0h6.2v1.30h-6.2zM735.5 500.2h1.2v1.30h-1.2zM740.5 500.2h2.5v1.30h-2.5zM745.5 500.2h3.8v1.30h-3.8zM753.0 500.2h2.5v1.30h-2.5zM758.0 500.2h2.5v1.30h-2.5zM761.8 500.2h1.2v1.30h-1.2zM741.8 501.5h5.0v1.30h-5.0zM748.0 501.5h3.8v1.30h-3.8zM753.0 501.5h5.0v1.30h-5.0zM759.2 501.5h1.2v1.30h-1.2zM761.8 501.5h1.2v1.30h-1.2zM750.5 502.8h1.2v1.30h-1.2zM753.0 502.8h2.5v1.30h-2.5zM758.0 502.8h3.8v1.30h-3.8zM759.2 504.0h1.2v1.30h-1.2z" fill="#ffd4d4"/>
<path d="M727.0 443.0h2.5v1.30h-2.5zM714.5 444.2h1.2v1.30h-1.2zM717.0 444.2h1.2v1.30h-1.2zM719.5 444.2h1.2v1.30h-1.2zM724.5 444.2h2.5v1.30h-2.5zM687.0 445.5h1.2v1.30h-1.2zM695.8 445.5h1.2v1.30h-1.2zM698.2 445.5h2.5v1.30h-2.5zM715.8 445.5h2.5v1.30h-2.5zM719.5 445.5h1.2v1.30h-1.2zM724.5 445.5h5.0v1.30h-5.0zM673.2 446.8h1.2v1.30h-1.2zM677.0 446.8h2.5v1.30h-2.5zM680.8 446.8h3.8v1.30h-3.8zM687.0 446.8h1.2v1.30h-1.2zM694.5 446.8h2.5v1.30h-2.5zM717.0 446.8h1.2v1.30h-1.2zM719.5 446.8h1.2v1.30h-1.2zM724.5 446.8h5.0v1.30h-5.0zM673.2 448.0h1.2v1.30h-1.2zM675.8 448.0h1.2v1.30h-1.2zM678.2 448.0h8.8v1.30h-8.8zM715.8 448.0h2.5v1.30h-2.5zM723.2 448.0h1.2v1.30h-1.2zM725.8 448.0h2.5v1.30h-2.5zM729.5 448.0h1.2v1.30h-1.2zM673.2 449.2h1.2v1.30h-1.2zM675.8 449.2h2.5v1.30h-2.5zM679.5 449.2h1.2v1.30h-1.2zM682.0 449.2h1.2v1.30h-1.2zM694.5 449.2h1.2v1.30h-1.2zM698.2 449.2h1.2v1.30h-1.2zM710.8 449.2h2.5v1.30h-2.5zM714.5 449.2h2.5v1.30h-2.5zM727.0 449.2h5.0v1.30h-5.0zM678.2 450.5h2.5v1.30h-2.5zM685.8 450.5h1.2v1.30h-1.2zM688.2 450.5h3.8v1.30h-3.8zM695.8 450.5h2.5v1.30h-2.5zM705.8 450.5h1.2v1.30h-1.2zM712.0 450.5h1.2v1.30h-1.2zM714.5 450.5h3.8v1.30h-3.8zM725.8 450.5h2.5v1.30h-2.5zM730.8 450.5h2.5v1.30h-2.5zM734.5 450.5h1.2v1.30h-1.2zM738.2 450.5h2.5v1.30h-2.5zM743.2 450.5h1.2v1.30h-1.2zM674.5 451.8h1.2v1.30h-1.2zM684.5 451.8h2.5v1.30h-2.5zM690.8 451.8h1.2v1.30h-1.2zM704.5 451.8h1.2v1.30h-1.2zM710.8 451.8h3.8v1.30h-3.8zM724.5 451.8h8.8v1.30h-8.8zM734.5 451.8h2.5v1.30h-2.5zM738.2 451.8h6.2v1.30h-6.2zM684.5 453.0h1.2v1.30h-1.2zM688.2 453.0h1.2v1.30h-1.2zM692.0 453.0h2.5v1.30h-2.5zM704.5 453.0h2.5v1.30h-2.5zM708.2 453.0h2.5v1.30h-2.5zM713.2 453.0h2.5v1.30h-2.5zM725.8 453.0h5.0v1.30h-5.0zM732.0 453.0h3.8v1.30h-3.8zM737.0 453.0h6.2v1.30h-6.2zM744.5 453.0h1.2v1.30h-1.2zM675.8 454.2h2.5v1.30h-2.5zM688.2 454.2h1.2v1.30h-1.2zM692.0 454.2h1.2v1.30h-1.2zM707.0 454.2h1.2v1.30h-1.2zM709.5 454.2h1.2v1.30h-1.2zM712.0 454.2h1.2v1.30h-1.2zM714.5 454.2h1.2v1.30h-1.2zM718.2 454.2h2.5v1.30h-2.5zM722.0 454.2h10.0v1.30h-10.0zM733.2 454.2h3.8v1.30h-3.8zM738.2 454.2h1.2v1.30h-1.2zM742.0 454.2h3.8v1.30h-3.8zM673.2 455.5h6.2v1.30h-6.2zM680.8 455.5h2.5v1.30h-2.5zM689.5 455.5h6.2v1.30h-6.2zM703.2 455.5h2.5v1.30h-2.5zM707.0 455.5h1.2v1.30h-1.2zM709.5 455.5h1.2v1.30h-1.2zM712.0 455.5h5.0v1.30h-5.0zM722.0 455.5h7.5v1.30h-7.5zM743.2 455.5h1.2v1.30h-1.2zM745.8 455.5h1.2v1.30h-1.2zM673.2 456.8h8.8v1.30h-8.8zM688.2 456.8h1.2v1.30h-1.2zM690.8 456.8h1.2v1.30h-1.2zM700.8 456.8h1.2v1.30h-1.2zM703.2 456.8h1.2v1.30h-1.2zM705.8 456.8h1.2v1.30h-1.2zM708.2 456.8h1.2v1.30h-1.2zM710.8 456.8h1.2v1.30h-1.2zM714.5 456.8h8.8v1.30h-8.8zM728.2 456.8h1.2v1.30h-1.2zM735.8 456.8h1.2v1.30h-1.2zM672.0 458.0h1.2v1.30h-1.2zM675.8 458.0h5.0v1.30h-5.0zM682.0 458.0h1.2v1.30h-1.2zM684.5 458.0h1.2v1.30h-1.2zM689.5 458.0h1.2v1.30h-1.2zM692.0 458.0h1.2v1.30h-1.2zM709.5 458.0h3.8v1.30h-3.8zM714.5 458.0h3.8v1.30h-3.8zM719.5 458.0h2.5v1.30h-2.5zM723.2 458.0h1.2v1.30h-1.2zM725.8 458.0h2.5v1.30h-2.5zM737.0 458.0h1.2v1.30h-1.2zM747.0 458.0h1.2v1.30h-1.2zM673.2 459.2h2.5v1.30h-2.5zM677.0 459.2h5.0v1.30h-5.0zM688.2 459.2h1.2v1.30h-1.2zM690.8 459.2h2.5v1.30h-2.5zM704.5 459.2h1.2v1.30h-1.2zM708.2 459.2h1.2v1.30h-1.2zM712.0 459.2h1.2v1.30h-1.2zM715.8 459.2h2.5v1.30h-2.5zM719.5 459.2h1.2v1.30h-1.2zM723.2 459.2h1.2v1.30h-1.2zM727.0 459.2h2.5v1.30h-2.5zM672.0 460.5h1.2v1.30h-1.2zM674.5 460.5h1.2v1.30h-1.2zM677.0 460.5h1.2v1.30h-1.2zM680.8 460.5h2.5v1.30h-2.5zM684.5 460.5h1.2v1.30h-1.2zM700.8 460.5h1.2v1.30h-1.2zM708.2 460.5h1.2v1.30h-1.2zM718.2 460.5h1.2v1.30h-1.2zM720.8 460.5h2.5v1.30h-2.5zM727.0 460.5h1.2v1.30h-1.2zM749.5 460.5h1.2v1.30h-1.2zM680.8 461.8h2.5v1.30h-2.5zM720.8 461.8h3.8v1.30h-3.8zM727.0 461.8h1.2v1.30h-1.2zM735.8 461.8h1.2v1.30h-1.2zM679.5 463.0h5.0v1.30h-5.0zM707.0 463.0h1.2v1.30h-1.2zM720.8 463.0h1.2v1.30h-1.2zM724.5 463.0h1.2v1.30h-1.2zM752.0 463.0h1.2v1.30h-1.2zM678.2 464.2h1.2v1.30h-1.2zM683.2 464.2h1.2v1.30h-1.2zM685.8 464.2h2.5v1.30h-2.5zM707.0 464.2h2.5v1.30h-2.5zM718.2 464.2h7.5v1.30h-7.5zM753.2 464.2h1.2v1.30h-1.2zM673.2 465.5h1.2v1.30h-1.2zM679.5 465.5h5.0v1.30h-5.0zM687.0 465.5h2.5v1.30h-2.5zM704.5 465.5h3.8v1.30h-3.8zM715.8 465.5h1.2v1.30h-1.2zM718.2 465.5h5.0v1.30h-5.0zM754.5 465.5h2.5v1.30h-2.5zM675.8 466.8h3.8v1.30h-3.8zM680.8 466.8h3.8v1.30h-3.8zM685.8 466.8h1.2v1.30h-1.2zM708.2 466.8h2.5v1.30h-2.5zM715.8 466.8h11.2v1.30h-11.2zM739.5 466.8h2.5v1.30h-2.5zM743.2 466.8h1.2v1.30h-1.2zM755.8 466.8h1.2v1.30h-1.2zM677.0 468.0h11.2v1.30h-11.2zM692.0 468.0h1.2v1.30h-1.2zM707.0 468.0h3.8v1.30h-3.8zM715.8 468.0h8.8v1.30h-8.8zM728.2 468.0h1.2v1.30h-1.2zM739.5 468.0h3.8v1.30h-3.8zM744.5 468.0h1.2v1.30h-1.2zM757.0 468.0h1.2v1.30h-1.2zM672.0 469.2h1.2v1.30h-1.2zM675.8 469.2h2.5v1.30h-2.5zM679.5 469.2h6.2v1.30h-6.2zM690.8 469.2h2.5v1.30h-2.5zM702.0 469.2h3.8v1.30h-3.8zM707.0 469.2h1.2v1.30h-1.2zM712.0 469.2h13.8v1.30h-13.8zM727.0 469.2h7.5v1.30h-7.5zM738.2 469.2h3.8v1.30h-3.8zM743.2 469.2h1.2v1.30h-1.2zM755.8 469.2h3.8v1.30h-3.8zM675.8 470.5h6.2v1.30h-6.2zM690.8 470.5h1.2v1.30h-1.2zM700.8 470.5h1.2v1.30h-1.2zM704.5 470.5h1.2v1.30h-1.2zM707.0 470.5h2.5v1.30h-2.5zM710.8 470.5h3.8v1.30h-3.8zM715.8 470.5h6.2v1.30h-6.2zM723.2 470.5h2.5v1.30h-2.5zM729.5 470.5h2.5v1.30h-2.5zM744.5 470.5h2.5v1.30h-2.5zM678.2 471.8h3.8v1.30h-3.8zM683.2 471.8h1.2v1.30h-1.2zM700.8 471.8h5.0v1.30h-5.0zM707.0 471.8h2.5v1.30h-2.5zM710.8 471.8h2.5v1.30h-2.5zM714.5 471.8h5.0v1.30h-5.0zM723.2 471.8h6.2v1.30h-6.2zM732.0 471.8h1.2v1.30h-1.2zM692.0 473.0h2.5v1.30h-2.5zM700.8 473.0h6.2v1.30h-6.2zM710.8 473.0h10.0v1.30h-10.0zM723.2 473.0h1.2v1.30h-1.2zM725.8 473.0h3.8v1.30h-3.8zM700.8 474.2h10.0v1.30h-10.0zM713.2 474.2h2.5v1.30h-2.5zM718.2 474.2h2.5v1.30h-2.5zM722.0 474.2h2.5v1.30h-2.5zM692.0 475.5h1.2v1.30h-1.2zM703.2 475.5h6.2v1.30h-6.2zM710.8 475.5h3.8v1.30h-3.8zM717.0 475.5h3.8v1.30h-3.8zM692.0 476.8h1.2v1.30h-1.2zM703.2 476.8h1.2v1.30h-1.2zM705.8 476.8h2.5v1.30h-2.5zM709.5 476.8h6.2v1.30h-6.2zM689.5 478.0h1.2v1.30h-1.2zM705.8 478.0h1.2v1.30h-1.2zM708.2 478.0h1.2v1.30h-1.2zM712.0 478.0h1.2v1.30h-1.2z" fill="#ffd4d4"/>
<path d="M516.8 521.2h2.5v1.30h-2.5zM531.8 523.8h1.2v1.30h-1.2zM528.0 525.0h1.2v1.30h-1.2zM531.8 525.0h3.8v1.30h-3.8zM525.5 526.2h1.2v1.30h-1.2zM529.2 526.2h1.2v1.30h-1.2zM534.2 526.2h1.2v1.30h-1.2zM521.8 527.5h1.2v1.30h-1.2zM524.2 527.5h1.2v1.30h-1.2zM526.8 527.5h1.2v1.30h-1.2zM529.2 527.5h1.2v1.30h-1.2zM533.0 527.5h1.2v1.30h-1.2zM535.5 527.5h1.2v1.30h-1.2zM520.5 528.8h10.0v1.30h-10.0zM531.8 528.8h5.0v1.30h-5.0zM520.5 530.0h8.8v1.30h-8.8zM530.5 530.0h6.2v1.30h-6.2zM520.5 531.2h6.2v1.30h-6.2zM528.0 531.2h1.2v1.30h-1.2zM531.8 531.2h3.8v1.30h-3.8zM521.8 532.5h3.8v1.30h-3.8zM526.8 532.5h1.2v1.30h-1.2zM530.5 532.5h1.2v1.30h-1.2zM534.2 532.5h1.2v1.30h-1.2zM521.8 533.8h3.8v1.30h-3.8zM528.0 533.8h1.2v1.30h-1.2zM521.8 535.0h3.8v1.30h-3.8zM526.8 535.0h1.2v1.30h-1.2zM535.5 535.0h1.2v1.30h-1.2zM524.2 536.2h1.2v1.30h-1.2zM524.2 538.8h1.2v1.30h-1.2zM526.8 538.8h1.2v1.30h-1.2zM529.2 540.0h1.2v1.30h-1.2zM525.5 541.2h3.8v1.30h-3.8zM531.8 541.2h1.2v1.30h-1.2zM523.0 542.5h1.2v1.30h-1.2zM525.5 542.5h1.2v1.30h-1.2zM530.5 542.5h2.5v1.30h-2.5zM534.2 542.5h1.2v1.30h-1.2zM523.0 543.8h15.0v1.30h-15.0zM523.0 545.0h2.5v1.30h-2.5zM526.8 545.0h6.2v1.30h-6.2zM534.2 545.0h3.8v1.30h-3.8zM523.0 546.2h8.8v1.30h-8.8zM533.0 546.2h5.0v1.30h-5.0zM523.0 547.5h1.2v1.30h-1.2zM530.5 547.5h7.5v1.30h-7.5zM523.0 548.8h1.2v1.30h-1.2zM529.2 548.8h8.8v1.30h-8.8zM521.8 550.0h2.5v1.30h-2.5zM529.2 550.0h7.5v1.30h-7.5zM521.8 551.2h5.0v1.30h-5.0zM530.5 551.2h1.2v1.30h-1.2zM535.5 551.2h1.2v1.30h-1.2zM521.8 552.5h5.0v1.30h-5.0zM521.8 553.8h5.0v1.30h-5.0zM521.8 555.0h5.0v1.30h-5.0zM523.0 556.2h2.5v1.30h-2.5zM526.8 556.2h1.2v1.30h-1.2zM523.0 557.5h3.8v1.30h-3.8zM525.5 558.8h2.5v1.30h-2.5zM524.2 560.0h1.2v1.30h-1.2zM526.8 560.0h1.2v1.30h-1.2zM528.0 561.2h1.2v1.30h-1.2zM526.8 562.5h1.2v1.30h-1.2zM526.8 563.8h3.8v1.30h-3.8zM534.2 563.8h1.2v1.30h-1.2zM528.0 565.0h2.5v1.30h-2.5zM533.0 565.0h1.2v1.30h-1.2zM528.0 566.2h2.5v1.30h-2.5zM531.8 566.2h1.2v1.30h-1.2zM529.2 567.5h3.8v1.30h-3.8zM531.8 568.8h2.5v1.30h-2.5zM531.8 570.0h1.2v1.30h-1.2zM533.0 571.2h1.2v1.30h-1.2zM531.8 572.5h2.5v1.30h-2.5zM531.8 573.8h3.8v1.30h-3.8zM533.0 575.0h1.2v1.30h-1.2zM533.0 576.2h2.5v1.30h-2.5zM534.2 577.5h2.5v1.30h-2.5zM534.2 578.8h1.2v1.30h-1.2z" fill="#ffd4d4"/>
<polygon points="710,400.5 709.7,401.9 708.9,403.1 707.5,404.1 705.9,404.8 704,405 702.1,404.8 700.5,404.1 699.1,403.1 698.3,401.9 698,400.5 698.3,399.1 699.1,397.9 700.5,396.9 702.1,396.2 704,396 705.9,396.2 707.5,396.9 708.9,397.9 709.7,399.1" fill="#ffd4d4"/>
<polygon points="715,419.5 714.7,420.3 713.9,421 712.5,421.5 710.9,421.9 709,422 707.1,421.9 705.5,421.5 704.1,421 703.3,420.3 703,419.5 703.3,418.7 704.1,418 705.5,417.5 707.1,417.1 709,417 710.9,417.1 712.5,417.5 713.9,418 714.7,418.7" fill="#ffd4d4"/>
<polygon points="732,449 731.2,449.9 728.9,450.8 725.4,451.4 720.9,451.9 716,452 711.1,451.9 706.6,451.4 703.1,450.8 700.8,449.9 700,449 700.8,448.1 703.1,447.2 706.6,446.6 711.1,446.1 716,446 720.9,446.1 725.4,446.6 728.9,447.2 731.2,448.1" fill="#ffd4d4"/>
<polygon points="810.5,475 809.7,476.9 807.2,478.5 803.4,479.9 798.6,480.7 793.2,481 787.9,480.7 783.1,479.9 779.3,478.5 776.8,476.9 776,475 776.8,473.1 779.3,471.5 783.1,470.1 787.9,469.3 793.2,469 798.6,469.3 803.4,470.1 807.2,471.5 809.7,473.1" fill="#ffd4d4"/>
<polygon points="774.4,641.7 774.2,642.5 773.6,643.3 772.6,643.9 771.4,644.3 770,644.4 768.6,644.3 767.4,643.9 766.4,643.3 765.8,642.5 765.6,641.7 765.8,640.9 766.4,640.1 767.4,639.5 768.6,639.1 770,639 771.4,639.1 772.6,639.5 773.6,640.1 774.2,640.9" fill="#ffd4d4"/>
<polygon points="673,620 672.7,621.2 671.9,622.4 670.5,623.2 668.9,623.8 667,624 665.1,623.8 663.5,623.2 662.1,622.4 661.3,621.2 661,620 661.3,618.8 662.1,617.6 663.5,616.8 665.1,616.2 667,616 668.9,616.2 670.5,616.8 671.9,617.6 672.7,618.8" fill="#ffd4d4"/>
<polygon points="586,531.6 585.8,532.4 585.1,533 584.1,533.6 582.8,533.9 581.4,534 579.9,533.9 578.6,533.6 577.6,533 576.9,532.4 576.7,531.6 576.9,530.9 577.6,530.3 578.6,529.7 579.9,529.4 581.4,529.3 582.8,529.4 584.1,529.7 585.1,530.3 585.8,530.9" fill="#ffd4d4"/>
<polygon points="574,548.2 573.8,549.6 573.1,550.7 572.1,551.7 570.9,552.3 569.5,552.5 568.1,552.3 566.9,551.7 565.9,550.7 565.2,549.6 565,548.2 565.2,546.9 565.9,545.8 566.9,544.8 568.1,544.2 569.5,544 570.9,544.2 572.1,544.8 573.1,545.8 573.8,546.9" fill="#ffd4d4"/>
<polygon points="700,428.7 717.3,430 726.7,426 734.7,427.3 737.3,435.3 742,438.5 712,439 698,437 695,432" fill="#ffd4d4"/>
<polygon points="766.7,428.7 772,431.3 778.7,440 775,440 769,433.5" fill="#ffd4d4"/>
<polygon points="752.7,589.3 760.7,586.7 770,600 768.7,605.3 760.7,605.3 756.7,594.7" fill="#ffd4d4"/>
<polygon points="750,664 762,660 766,656 772,662 778,666 768,669 756,667" fill="#ffd4d4"/>
<path d="M536.0 577.0h1.2v1.30h-1.2zM536.0 578.2h1.2v1.30h-1.2zM537.2 579.5h1.2v1.30h-1.2zM537.2 580.8h1.2v1.30h-1.2zM537.2 582.0h1.2v1.30h-1.2zM539.8 588.2h1.2v1.30h-1.2zM542.2 588.2h1.2v1.30h-1.2zM539.8 589.5h1.2v1.30h-1.2zM541.0 590.8h2.5v1.30h-2.5zM541.0 592.0h1.2v1.30h-1.2zM547.2 592.0h2.5v1.30h-2.5zM541.0 593.2h1.2v1.30h-1.2zM544.8 593.2h1.2v1.30h-1.2zM542.2 594.5h2.5v1.30h-2.5zM546.0 594.5h1.2v1.30h-1.2zM543.5 595.8h1.2v1.30h-1.2zM548.5 595.8h1.2v1.30h-1.2zM542.2 597.0h2.5v1.30h-2.5zM543.5 598.2h2.5v1.30h-2.5zM547.2 598.2h1.2v1.30h-1.2zM547.2 599.5h1.2v1.30h-1.2zM549.8 599.5h1.2v1.30h-1.2zM544.8 600.8h2.5v1.30h-2.5zM548.5 600.8h1.2v1.30h-1.2zM551.0 600.8h2.5v1.30h-2.5zM544.8 602.0h2.5v1.30h-2.5zM551.0 602.0h1.2v1.30h-1.2zM546.0 603.2h2.5v1.30h-2.5zM546.0 604.5h3.8v1.30h-3.8zM552.2 604.5h1.2v1.30h-1.2zM547.2 605.8h3.8v1.30h-3.8zM552.2 605.8h2.5v1.30h-2.5zM547.2 607.0h1.2v1.30h-1.2zM553.5 607.0h2.5v1.30h-2.5zM547.2 608.2h1.2v1.30h-1.2zM552.2 608.2h1.2v1.30h-1.2zM554.8 608.2h1.2v1.30h-1.2zM548.5 609.5h1.2v1.30h-1.2zM553.5 609.5h2.5v1.30h-2.5zM554.8 610.8h2.5v1.30h-2.5zM554.8 612.0h2.5v1.30h-2.5zM552.2 613.2h1.2v1.30h-1.2zM554.8 613.2h2.5v1.30h-2.5zM553.5 614.5h3.8v1.30h-3.8zM551.0 615.8h6.2v1.30h-6.2zM551.0 617.0h2.5v1.30h-2.5zM554.8 617.0h2.5v1.30h-2.5zM552.2 618.2h3.8v1.30h-3.8zM557.2 618.2h1.2v1.30h-1.2zM554.8 619.5h2.5v1.30h-2.5zM552.2 620.8h3.8v1.30h-3.8zM557.2 620.8h1.2v1.30h-1.2zM553.5 622.0h1.2v1.30h-1.2zM558.5 625.8h1.2v1.30h-1.2zM557.2 627.0h2.5v1.30h-2.5zM558.5 628.2h1.2v1.30h-1.2zM558.5 629.5h1.2v1.30h-1.2zM558.5 630.8h2.5v1.30h-2.5zM559.8 632.0h1.2v1.30h-1.2z" fill="#ffd4d4"/>
<polygon points="596.7,662 599.5,662 599.5,676 596.7,676" fill="#ffd4d4"/>
<polygon points="360,312.5 359.7,313.6 358.9,314.6 357.5,315.3 355.9,315.8 354,316 352.1,315.8 350.5,315.3 349.1,314.6 348.3,313.6 348,312.5 348.3,311.4 349.1,310.4 350.5,309.7 352.1,309.2 354,309 355.9,309.2 357.5,309.7 358.9,310.4 359.7,311.4" fill="#ffeaea"/>
<polygon points="406,258 405.8,259.2 405.2,260.4 404.4,261.2 403.2,261.8 402,262 400.8,261.8 399.6,261.2 398.8,260.4 398.2,259.2 398,258 398.2,256.8 398.8,255.6 399.6,254.8 400.8,254.2 402,254 403.2,254.2 404.4,254.8 405.2,255.6 405.8,256.8" fill="#ffeaea"/>
<polygon points="381,261 380.9,261.6 380.6,262.2 380.2,262.6 379.6,262.9 379,263 378.4,262.9 377.8,262.6 377.4,262.2 377.1,261.6 377,261 377.1,260.4 377.4,259.8 377.8,259.4 378.4,259.1 379,259 379.6,259.1 380.2,259.4 380.6,259.8 380.9,260.4" fill="#ffeaea"/>
<polygon points="385.3,271.3 393.3,269.3 405.3,272.7 413.3,278 421.3,280.7 418.7,283.3 408,281.3 400,279.3 393.3,275.3" fill="#ffeaea"/>
<polygon points="376.7,279.3 390.7,279.3 390.7,281.3 376.7,281.3" fill="#ffeaea"/>
<polygon points="426.7,251.3 432.7,251.3 432.7,254.7 426.7,254.7" fill="#ffeaea"/>
<polygon points="438.7,244.7 442.7,240.7 453.3,239.3 460,238 461.3,244.7 470.7,240.7 477.3,243.3 470.7,247.3 462.7,247.3 461.3,255.3 450.7,255.3 442.7,252.7 436,250" fill="#ffeaea"/>
<polygon points="430.7,264.7 438.7,260.7 448,260.7 456,264.7 461.3,270 461.3,276.7 453.3,271.3 445.3,268.7 436,268.7" fill="#ffeaea"/>
<polygon points="462.7,254 470.7,256.7 472,270 468,272.7 462.7,268.7" fill="#ffeaea"/>
<polygon points="417.3,270 429.3,272.7 440,276.7 450.7,280.7 453.3,284.7 445.3,284.7 437.3,279.3 426.7,275.3 417.3,272.7" fill="#ffeaea"/>
<polygon points="476,306 488,298 510,296 520,300 530,310 562,310 567.3,312.7 564.7,318 568.7,323.3 571.3,328.7 578,332.7 579.3,340 570,342 556,343 546,340 536,345 512,344 500,336 488,328 478,316" fill="#ffeaea"/>
<polygon points="520,292 528,288 556,289 561,294 556,299 546,303 524,302" fill="#ffeaea"/>
<polygon points="514,270 522,258 538,256 550,260 552,270 538,276 534,283 526,280 522,274" fill="#ffeaea"/>
<polygon points="556,272 574,269 582,272 587,282 578,286 568,282 562,276" fill="#ffeaea"/>
<polygon points="574,258 573.8,259.2 573,260.4 571.9,261.2 570.5,261.8 569,262 567.5,261.8 566.1,261.2 565,260.4 564.2,259.2 564,258 564.2,256.8 565,255.6 566.1,254.8 567.5,254.2 569,254 570.5,254.2 571.9,254.8 573,255.6 573.8,256.8" fill="#ffeaea"/>
<polygon points="510,267.5 509.7,268.3 508.7,269 507.1,269.5 505.2,269.9 503,270 500.8,269.9 498.9,269.5 497.3,269 496.3,268.3 496,267.5 496.3,266.7 497.3,266 498.9,265.5 500.8,265.1 503,265 505.2,265.1 507.1,265.5 508.7,266 509.7,266.7" fill="#ffeaea"/>
<polygon points="538,246 537.7,246.9 536.8,247.8 535.3,248.4 533.5,248.9 531.5,249 529.5,248.9 527.7,248.4 526.2,247.8 525.3,246.9 525,246 525.3,245.1 526.2,244.2 527.7,243.6 529.5,243.1 531.5,243 533.5,243.1 535.3,243.6 536.8,244.2 537.7,245.1" fill="#ffeaea"/>
<polygon points="494,240 493.8,241.2 493,242.4 491.9,243.2 490.5,243.8 489,244 487.5,243.8 486.1,243.2 485,242.4 484.2,241.2 484,240 484.2,238.8 485,237.6 486.1,236.8 487.5,236.2 489,236 490.5,236.2 491.9,236.8 493,237.6 493.8,238.8" fill="#ffeaea"/>
<polygon points="609.3,254 620,252.7 624,256.7 629.3,264.7 626.7,268.7 621.3,266 614.7,262 610.7,258" fill="#ffeaea"/>
<polygon points="629.3,271.3 634.7,272.7 633.3,279.3 636,286 638.7,290 634.7,296.7 626.7,298 621.3,291.3 620,282 625.3,279.3" fill="#ffeaea"/>
<polygon points="638,272 646.7,272 646.7,274 638,274" fill="#ffeaea"/>
<polygon points="637.3,300.7 645.3,300 646.7,303.3 638.7,305.3 633.3,308.7 633.3,306" fill="#ffeaea"/>
<polygon points="610.7,315.3 620,316.7 630.7,326 641.3,328.7 641,340.5 616,340.5 617.3,326" fill="#ffeaea"/>
<polygon points="584,240.7 588,242 597.3,248.7 596,250.7 588,246" fill="#ffeaea"/>
<polygon points="492,348 491.6,348.9 490.5,349.8 488.7,350.4 486.5,350.9 484,351 481.5,350.9 479.3,350.4 477.5,349.8 476.4,348.9 476,348 476.4,347.1 477.5,346.2 479.3,345.6 481.5,345.1 484,345 486.5,345.1 488.7,345.6 490.5,346.2 491.6,347.1" fill="#ffeaea"/>
<polygon points="514,349 513.9,350.5 513.4,351.9 512.8,353 511.9,353.8 511,354 510.1,353.8 509.2,353 508.6,351.9 508.1,350.5 508,349 508.1,347.5 508.6,346.1 509.2,345 510.1,344.2 511,344 511.9,344.2 512.8,345 513.4,346.1 513.9,347.5" fill="#ffeaea"/>
<polygon points="487,373 493,366 499,372" fill="#ffeaea"/>
<polygon points="606.7,346 619.3,344 620.7,347.3 614,354 607.3,354.7" fill="#ffeaea"/>
<polygon points="612,339.3 619.3,330 630,330 628.7,338 630,342 616.7,342.7" fill="#ffeaea"/>
<polygon points="616.7,358.7 624.7,352.7 635.3,352 634,359.3 630,363.3 634,368 628.7,364.7 616.7,364" fill="#ffeaea"/>
<polygon points="649.3,349.3 658,349.3 662.7,358.7 652.7,360 649.3,356.7" fill="#ffeaea"/>
<polygon points="654,368.7 662,362 670,363.3 675.3,368.7 680.7,374 691.3,376.7 694,383.3 683.3,382 672.7,383.3 664.7,378 655.3,377.3" fill="#ffeaea"/>
<polygon points="664.7,347.3 670,343.3 680.7,344.7 688.7,342 694,352.7 696.7,363.3 691.3,368.7 686,374 680.7,374 675.3,368.7 670,360.7 667.3,354" fill="#ffeaea"/>
<path d="M657.0 330.0h13.8v1.30h-13.8zM649.5 331.2h16.2v1.30h-16.2zM667.0 331.2h1.2v1.30h-1.2zM669.5 331.2h2.5v1.30h-2.5zM649.5 332.5h1.2v1.30h-1.2zM652.0 332.5h5.0v1.30h-5.0zM658.2 332.5h1.2v1.30h-1.2zM662.0 332.5h1.2v1.30h-1.2zM664.5 332.5h2.5v1.30h-2.5zM670.7 332.5h1.2v1.30h-1.2zM648.2 333.8h2.5v1.30h-2.5zM652.0 333.8h5.0v1.30h-5.0zM665.7 333.8h1.2v1.30h-1.2zM643.2 335.0h1.2v1.30h-1.2zM649.5 335.0h1.2v1.30h-1.2zM652.0 335.0h2.5v1.30h-2.5zM655.7 335.0h2.5v1.30h-2.5zM664.5 335.0h1.2v1.30h-1.2zM649.5 336.2h6.2v1.30h-6.2zM658.2 336.2h1.2v1.30h-1.2zM663.2 336.2h2.5v1.30h-2.5zM668.2 336.2h1.2v1.30h-1.2zM672.0 336.2h1.2v1.30h-1.2zM647.0 337.5h1.2v1.30h-1.2zM649.5 337.5h8.8v1.30h-8.8zM659.5 337.5h12.5v1.30h-12.5zM645.7 338.8h1.2v1.30h-1.2zM648.2 338.8h7.5v1.30h-7.5zM657.0 338.8h13.8v1.30h-13.8zM643.2 340.0h1.2v1.30h-1.2zM647.0 340.0h5.0v1.30h-5.0zM655.7 340.0h13.8v1.30h-13.8zM644.5 341.2h10.0v1.30h-10.0zM655.7 341.2h11.2v1.30h-11.2zM643.2 342.5h2.5v1.30h-2.5zM647.0 342.5h2.5v1.30h-2.5zM650.7 342.5h1.2v1.30h-1.2zM654.5 342.5h2.5v1.30h-2.5z" fill="#ffeaea"/>
<polygon points="113,633.3 123,637.8 139,646.7 152,653.3 164.4,676 153.3,676 147.8,666.7 136.7,655.6 123.3,646.7 113,641" fill="#ffeaea"/>
<polygon points="298.9,619.4 306.7,620.6 315.6,620 318.9,623.3 323.3,626.1 326.1,628.3 328.9,627.2 334.4,630 338.9,632.2 344.4,632.8 350,635 353.9,637.2 356.7,637.8 357.2,641.7 361.1,645.6 365.6,650 369.4,652.8 372.2,657.2 372,660.6 368.9,662.8 365.6,663 361.1,660.6 356.7,658.9 351.1,658.1 344.4,658.9 338.9,658.3 333.3,656.1 329.4,652.8 327.8,648.9 328.9,645 330,642.8 328.9,638.3 327.2,633.9 323.3,631.7 321.7,633.3 317.8,631.7 313.3,631.1 310,631.1 307.2,629.4 305.6,627.2 302.2,623.9 300,621.7" fill="#ffeaea"/>
<polygon points="316.7,617.2 323.3,615.6 331.1,616.7 336.7,620.6 338.3,626.1 337,631 328.9,627.2 326.1,628.3 318.9,623.3" fill="#ffeaea"/>
<polygon points="113,234 240,234 238,240 234,252 224,257 206,256 196,250 180,249 160,247 130,243 113,241" fill="#ffbfbf"/>
<polygon points="172,234 220,234 220,237 218,245 210,246 194,241 178,238" fill="#ffaaaa"/>
<polygon points="418.3,307.8 424.4,304.4 432.2,301 440,300 442.2,296.7 451,295.6 453.3,300 451,307.8 446.7,314.4 440,320 434.4,322.2 432.2,315.6 426.7,317.8 424.4,321 428.9,323.3 426.7,326 422.2,324.4 418.9,318.9 418.3,313.3" fill="#ffbfbf"/>
<polygon points="406,317.8 407.8,312.2 412.2,305.6 417.8,298.9 424.4,295.6 431,293.3 440,293.3 442.2,296.7 432.2,297.8 424.4,300 418.9,303.3 413.3,308.9 408.9,315.6 407.8,318.9" fill="#ffbfbf"/>
<polygon points="415,320 421,320 421,323.3 415,323.3" fill="#ffbfbf"/>
<polygon points="556,374 562,369 587,365 582,379 570,376 558,377" fill="#ffbfbf"/>
<polygon points="616,307.5 615.8,308.3 615.2,309 614.4,309.5 613.2,309.9 612,310 610.8,309.9 609.6,309.5 608.8,309 608.2,308.3 608,307.5 608.2,306.7 608.8,306 609.6,305.5 610.8,305.1 612,305 613.2,305.1 614.4,305.5 615.2,306 615.8,306.7" fill="#ffbfbf"/>
<polygon points="601.3,331.3 603.3,331.3 603.3,338 601.3,338" fill="#ffbfbf"/>
<polygon points="198,507 222,506 234,502 250,498.4 260,500 267,508 266,520 258,527 248,530 234,528 226,524 223,514 214,512 198,509" fill="#ffbfbf"/>
<polygon points="192,507 191.6,507.9 190.3,508.8 188.3,509.4 185.8,509.9 183,510 180.2,509.9 177.7,509.4 175.7,508.8 174.4,507.9 174,507 174.4,506.1 175.7,505.2 177.7,504.6 180.2,504.1 183,504 185.8,504.1 188.3,504.6 190.3,505.2 191.6,506.1" fill="#ffbfbf"/>
<polygon points="329,557.8 334.4,551 342.2,549.6 345.3,553.8 346.5,556.3 356.3,556.3 360,558.7 362,564.2 359.3,570.3 352,575.2 342.2,576.5 333.7,574 329,567" fill="#ffbfbf"/>
<polygon points="396.7,611 405.6,604.4 414.4,601 474.4,600.4 487.8,602 494.4,604.4 505.6,614.4 492,614.4 479,614.4 463.3,620 445.6,629 432,640 421,653.3 414.4,662 403.3,666.7 394.4,666.7 391,657.8 390,642 392,631 395.6,620" fill="#ffbfbf"/>
<polygon points="704.5,506 704,508.5 702.7,510.7 700.6,512.5 697.9,513.6 695,514 692.1,513.6 689.4,512.5 687.3,510.7 686,508.5 685.5,506 686,503.5 687.3,501.3 689.4,499.5 692.1,498.4 695,498 697.9,498.4 700.6,499.5 702.7,501.3 704,503.5" fill="#ffbfbf"/>
<polygon points="113,361 320,329.5 340,348 360,368 372,382 380,387 396,388 404,398 410,414 412,439 498,439 498,454 518,458 550,452 570,448 576,434 588,432 600,438.6 615,447 637,457 661,467 686,475 690,479 687,493 629,493.6 615,501 606,504.7 600,510 598.7,520 590,522.7 570,523.3 566.7,526 562.7,531.3 566,536.7 567.3,543.3 559.3,538 552.7,534 546,530 539.3,526 530,522 522,520 514,518.7 510,519 510,534.7 496,524 496.7,546.7 500,549 500,567.8 487.8,575.6 476.7,584.4 474.4,591 474.4,600 386.7,600 382,584.4 380,571 376.7,564.4 378.3,562.4 370.3,555.7 361.8,549.6 351.4,543.4 347,542 332,529 316.7,519 309,512 309,485 300,485 292,485.6 282,485.6 274,487 266,486.4 260,488.4 255,489.6 253,492.4 250,494 247,491.6 242,487.6 238,485.6 230,484.4 222,483 218,483.6 214,486.4 190,480 170,472 150,460 136,454 124,440 113,432" fill="#ffffff"/>
<polygon points="504.7,518 507.3,514 515.3,513.3 521,518.5 514,518.7" fill="#ffeaea"/>
<polygon points="530,519 531.3,513.3 538,513.3 542,520.7 546,524 540,525.5 533,522.5" fill="#ffeaea"/>
<polygon points="768,486 810.5,486 810.5,607 803,601 797,595 790,590 784,579 780,578 775,568 768,566" fill="#ffffff"/>
<path d="M805.5 556.0h1.2v1.30h-1.2zM808.0 556.0h1.2v1.30h-1.2zM801.8 557.2h2.5v1.30h-2.5zM806.8 557.2h1.2v1.30h-1.2zM809.2 557.2h1.2v1.30h-1.2zM776.8 558.5h1.2v1.30h-1.2zM780.5 558.5h2.5v1.30h-2.5zM786.8 558.5h1.2v1.30h-1.2zM789.2 558.5h3.8v1.30h-3.8zM806.8 558.5h2.5v1.30h-2.5zM773.0 559.8h1.2v1.30h-1.2zM775.5 559.8h5.0v1.30h-5.0zM784.2 559.8h7.5v1.30h-7.5zM793.0 559.8h2.5v1.30h-2.5zM805.5 559.8h1.2v1.30h-1.2zM775.5 561.0h7.5v1.30h-7.5zM785.5 561.0h3.8v1.30h-3.8zM800.5 561.0h2.5v1.30h-2.5zM806.8 561.0h1.2v1.30h-1.2zM771.8 562.2h2.5v1.30h-2.5zM775.5 562.2h1.2v1.30h-1.2zM778.0 562.2h1.2v1.30h-1.2zM780.5 562.2h2.5v1.30h-2.5zM784.2 562.2h3.8v1.30h-3.8zM789.2 562.2h2.5v1.30h-2.5zM803.0 562.2h3.8v1.30h-3.8zM770.5 563.5h1.2v1.30h-1.2zM773.0 563.5h1.2v1.30h-1.2zM775.5 563.5h7.5v1.30h-7.5zM784.2 563.5h1.2v1.30h-1.2zM786.8 563.5h1.2v1.30h-1.2zM789.2 563.5h1.2v1.30h-1.2zM791.8 563.5h1.2v1.30h-1.2zM800.5 563.5h1.2v1.30h-1.2zM775.5 564.8h7.5v1.30h-7.5zM785.5 564.8h3.8v1.30h-3.8zM790.5 564.8h1.2v1.30h-1.2zM793.0 564.8h1.2v1.30h-1.2zM798.0 564.8h1.2v1.30h-1.2zM800.5 564.8h1.2v1.30h-1.2zM809.2 564.8h1.2v1.30h-1.2zM770.5 566.0h5.0v1.30h-5.0zM776.8 566.0h5.0v1.30h-5.0zM783.0 566.0h7.5v1.30h-7.5zM795.5 566.0h1.2v1.30h-1.2zM798.0 566.0h1.2v1.30h-1.2zM774.2 567.2h3.8v1.30h-3.8zM779.2 567.2h1.2v1.30h-1.2zM785.5 567.2h5.0v1.30h-5.0zM791.8 567.2h2.5v1.30h-2.5zM795.5 567.2h1.2v1.30h-1.2zM775.5 568.5h1.2v1.30h-1.2zM778.0 568.5h1.2v1.30h-1.2zM780.5 568.5h1.2v1.30h-1.2zM784.2 568.5h1.2v1.30h-1.2zM786.8 568.5h1.2v1.30h-1.2zM791.8 568.5h1.2v1.30h-1.2zM785.5 569.8h7.5v1.30h-7.5zM776.8 571.0h1.2v1.30h-1.2zM788.0 571.0h2.5v1.30h-2.5zM785.5 572.2h7.5v1.30h-7.5zM794.2 572.2h1.2v1.30h-1.2zM780.5 573.5h1.2v1.30h-1.2zM784.2 573.5h6.2v1.30h-6.2zM783.0 574.8h1.2v1.30h-1.2zM785.5 574.8h1.2v1.30h-1.2zM779.2 576.0h1.2v1.30h-1.2zM781.8 576.0h8.8v1.30h-8.8zM784.2 577.2h3.8v1.30h-3.8zM788.0 578.5h2.5v1.30h-2.5zM808.0 578.5h2.5v1.30h-2.5zM785.5 579.8h6.2v1.30h-6.2zM800.5 579.8h1.2v1.30h-1.2zM805.5 579.8h1.2v1.30h-1.2zM808.0 579.8h2.5v1.30h-2.5zM788.0 581.0h1.2v1.30h-1.2zM805.5 581.0h5.0v1.30h-5.0zM785.5 582.2h1.2v1.30h-1.2zM788.0 582.2h1.2v1.30h-1.2zM790.5 582.2h1.2v1.30h-1.2zM809.2 582.2h1.2v1.30h-1.2zM786.8 583.5h1.2v1.30h-1.2zM789.2 583.5h1.2v1.30h-1.2zM801.8 586.0h1.2v1.30h-1.2zM799.2 587.2h1.2v1.30h-1.2zM795.5 588.5h2.5v1.30h-2.5zM799.2 588.5h6.2v1.30h-6.2zM794.2 589.8h1.2v1.30h-1.2zM798.0 589.8h6.2v1.30h-6.2zM805.5 589.8h1.2v1.30h-1.2zM799.2 591.0h5.0v1.30h-5.0zM805.5 591.0h2.5v1.30h-2.5zM794.2 592.2h1.2v1.30h-1.2zM798.0 592.2h1.2v1.30h-1.2zM804.2 592.2h1.2v1.30h-1.2zM799.2 593.5h6.2v1.30h-6.2zM806.8 593.5h1.2v1.30h-1.2zM809.2 593.5h1.2v1.30h-1.2zM798.0 594.8h3.8v1.30h-3.8zM805.5 594.8h2.5v1.30h-2.5zM809.2 594.8h1.2v1.30h-1.2zM798.0 596.0h1.2v1.30h-1.2zM808.0 596.0h2.5v1.30h-2.5zM799.2 597.2h1.2v1.30h-1.2zM808.0 597.2h1.2v1.30h-1.2z" fill="#ffeaea"/>
<path d="M768.0 566.0h2.5v1.30h-2.5zM768.0 567.2h1.2v1.30h-1.2zM770.5 567.2h2.5v1.30h-2.5zM768.0 568.5h1.2v1.30h-1.2zM768.0 573.5h1.2v1.30h-1.2zM769.2 574.8h1.2v1.30h-1.2zM774.2 574.8h1.2v1.30h-1.2zM778.0 574.8h1.2v1.30h-1.2zM768.0 576.0h1.2v1.30h-1.2zM770.5 576.0h2.5v1.30h-2.5zM775.5 576.0h1.2v1.30h-1.2zM778.0 576.0h1.2v1.30h-1.2zM769.2 577.2h1.2v1.30h-1.2zM771.8 577.2h2.5v1.30h-2.5zM775.5 577.2h1.2v1.30h-1.2zM768.0 578.5h1.2v1.30h-1.2zM775.5 578.5h1.2v1.30h-1.2zM781.8 578.5h1.2v1.30h-1.2zM768.0 579.8h3.8v1.30h-3.8zM783.0 581.0h1.2v1.30h-1.2zM775.5 582.2h1.2v1.30h-1.2zM780.5 582.2h1.2v1.30h-1.2zM781.8 583.5h1.2v1.30h-1.2zM781.8 584.8h2.5v1.30h-2.5zM780.5 586.0h1.2v1.30h-1.2zM783.0 586.0h1.2v1.30h-1.2zM774.2 587.2h1.2v1.30h-1.2zM778.0 587.2h2.5v1.30h-2.5zM781.8 587.2h2.5v1.30h-2.5zM775.5 588.5h6.2v1.30h-6.2zM783.0 588.5h2.5v1.30h-2.5zM775.5 589.8h2.5v1.30h-2.5zM779.2 589.8h1.2v1.30h-1.2zM776.8 591.0h1.2v1.30h-1.2zM780.5 591.0h2.5v1.30h-2.5zM784.2 591.0h1.2v1.30h-1.2zM781.8 592.2h3.8v1.30h-3.8zM793.0 592.2h1.2v1.30h-1.2zM781.8 593.5h2.5v1.30h-2.5zM788.0 593.5h3.8v1.30h-3.8zM793.0 593.5h2.5v1.30h-2.5zM781.8 594.8h3.8v1.30h-3.8zM790.5 594.8h3.8v1.30h-3.8zM784.2 596.0h1.2v1.30h-1.2zM791.8 596.0h5.0v1.30h-5.0zM790.5 597.2h1.2v1.30h-1.2zM793.0 597.2h1.2v1.30h-1.2zM795.5 597.2h1.2v1.30h-1.2zM800.5 599.8h1.2v1.30h-1.2zM800.5 601.0h3.8v1.30h-3.8zM804.2 602.2h1.2v1.30h-1.2zM795.5 603.5h1.2v1.30h-1.2zM801.8 603.5h1.2v1.30h-1.2zM804.2 603.5h1.2v1.30h-1.2zM796.8 604.8h2.5v1.30h-2.5zM800.5 604.8h2.5v1.30h-2.5zM796.8 606.0h3.8v1.30h-3.8zM809.2 608.5h1.2v1.30h-1.2zM806.8 612.2h2.5v1.30h-2.5zM809.2 613.5h1.2v1.30h-1.2z" fill="#ffffff"/>
<polygon points="768,584 771.3,583.3 776.7,592 786,598.7 796.7,606.7 804.7,612 810.5,616 810.5,627 802,618 790,606 780,600 772,592" fill="#ffffff"/>
<polygon points="608.9,553.3 621,542 628.9,540 630,551 625.6,560 634.4,564.4 625.6,575.6 616.7,571 610,564.4" fill="#ffffff"/>
<path d="M621.4 541.2h1.2v1.30h-1.2zM618.9 543.8h1.2v1.30h-1.2zM617.6 545.0h1.2v1.30h-1.2zM627.6 546.2h2.5v1.30h-2.5zM615.1 547.5h1.2v1.30h-1.2zM628.9 547.5h1.2v1.30h-1.2zM612.6 548.8h1.2v1.30h-1.2zM615.1 548.8h2.5v1.30h-2.5zM626.4 548.8h1.2v1.30h-1.2zM611.4 550.0h1.2v1.30h-1.2zM615.1 550.0h3.8v1.30h-3.8zM610.1 551.2h3.8v1.30h-3.8zM615.1 551.2h3.8v1.30h-3.8zM610.1 552.5h1.2v1.30h-1.2zM612.6 552.5h3.8v1.30h-3.8zM617.6 552.5h1.2v1.30h-1.2zM610.1 553.8h2.5v1.30h-2.5zM615.1 553.8h1.2v1.30h-1.2zM623.9 553.8h3.8v1.30h-3.8zM616.4 555.0h7.5v1.30h-7.5zM618.9 556.2h3.8v1.30h-3.8zM623.9 556.2h3.8v1.30h-3.8zM608.9 557.5h2.5v1.30h-2.5zM612.6 557.5h1.2v1.30h-1.2zM615.1 557.5h2.5v1.30h-2.5zM618.9 557.5h6.2v1.30h-6.2zM610.1 558.8h2.5v1.30h-2.5zM613.9 558.8h1.2v1.30h-1.2zM616.4 558.8h8.8v1.30h-8.8zM611.4 560.0h11.2v1.30h-11.2zM611.4 561.2h3.8v1.30h-3.8zM618.9 561.2h2.5v1.30h-2.5zM611.4 562.5h3.8v1.30h-3.8zM621.4 562.5h2.5v1.30h-2.5zM625.1 562.5h6.2v1.30h-6.2zM610.1 563.8h5.0v1.30h-5.0zM623.9 563.8h3.8v1.30h-3.8zM628.9 563.8h2.5v1.30h-2.5zM612.6 565.0h2.5v1.30h-2.5zM622.6 565.0h1.2v1.30h-1.2zM627.6 565.0h1.2v1.30h-1.2zM630.1 565.0h3.8v1.30h-3.8zM622.6 566.2h1.2v1.30h-1.2zM626.4 566.2h2.5v1.30h-2.5zM630.1 566.2h2.5v1.30h-2.5zM618.9 567.5h1.2v1.30h-1.2zM623.9 567.5h7.5v1.30h-7.5zM616.4 568.8h2.5v1.30h-2.5zM626.4 568.8h2.5v1.30h-2.5zM616.4 570.0h1.2v1.30h-1.2zM618.9 570.0h1.2v1.30h-1.2zM623.9 570.0h5.0v1.30h-5.0zM620.1 571.2h3.8v1.30h-3.8zM625.1 571.2h1.2v1.30h-1.2zM627.6 571.2h1.2v1.30h-1.2zM621.4 572.5h1.2v1.30h-1.2zM623.9 572.5h3.8v1.30h-3.8zM622.6 573.8h1.2v1.30h-1.2zM625.1 573.8h1.2v1.30h-1.2z" fill="#ffeaea"/>
<polygon points="621,575.6 634.4,573.3 647.8,580 658.9,582 656.7,589 643.3,592 630,586.7" fill="#ffffff"/>
<path d="M632.2 573.3h1.2v1.30h-1.2zM629.8 574.5h5.0v1.30h-5.0zM631.0 575.8h3.8v1.30h-3.8zM629.8 577.0h5.0v1.30h-5.0zM632.2 578.3h2.5v1.30h-2.5zM643.5 578.3h1.2v1.30h-1.2zM629.8 579.5h1.2v1.30h-1.2zM636.0 579.5h1.2v1.30h-1.2zM638.5 579.5h1.2v1.30h-1.2zM642.2 579.5h1.2v1.30h-1.2zM646.0 579.5h1.2v1.30h-1.2zM634.8 580.8h8.8v1.30h-8.8zM651.0 580.8h1.2v1.30h-1.2zM653.5 580.8h2.5v1.30h-2.5zM627.2 582.0h1.2v1.30h-1.2zM631.0 582.0h1.2v1.30h-1.2zM633.5 582.0h7.5v1.30h-7.5zM642.2 582.0h1.2v1.30h-1.2zM644.8 582.0h1.2v1.30h-1.2zM654.8 582.0h1.2v1.30h-1.2zM632.2 583.3h1.2v1.30h-1.2zM636.0 583.3h2.5v1.30h-2.5zM642.2 583.3h3.8v1.30h-3.8zM631.0 584.5h1.2v1.30h-1.2zM633.5 584.5h5.0v1.30h-5.0zM642.2 584.5h1.2v1.30h-1.2zM629.8 585.8h7.5v1.30h-7.5zM642.2 585.8h1.2v1.30h-1.2zM644.8 585.8h1.2v1.30h-1.2zM632.2 587.0h5.0v1.30h-5.0zM638.5 587.0h1.2v1.30h-1.2zM641.0 587.0h1.2v1.30h-1.2zM636.0 588.3h6.2v1.30h-6.2zM652.2 588.3h1.2v1.30h-1.2zM638.5 589.5h1.2v1.30h-1.2zM641.0 589.5h1.2v1.30h-1.2zM644.8 589.5h1.2v1.30h-1.2zM644.8 590.8h1.2v1.30h-1.2z" fill="#ffeaea"/>
<polygon points="650,549 654.4,544.4 668.9,553.3 664.4,562 655.6,560" fill="#ffffff"/>
<path d="M653.8 544.4h1.2v1.30h-1.2zM652.5 545.6h2.5v1.30h-2.5zM651.2 546.9h5.0v1.30h-5.0zM650.0 548.1h11.2v1.30h-11.2zM650.0 549.4h3.8v1.30h-3.8zM655.0 549.4h8.8v1.30h-8.8zM653.8 550.6h1.2v1.30h-1.2zM656.2 550.6h1.2v1.30h-1.2zM660.0 550.6h5.0v1.30h-5.0zM660.0 551.9h7.5v1.30h-7.5zM658.8 553.1h10.0v1.30h-10.0zM658.8 554.4h5.0v1.30h-5.0zM665.0 554.4h1.2v1.30h-1.2zM658.8 555.6h5.0v1.30h-5.0zM665.0 555.6h2.5v1.30h-2.5zM660.0 556.9h3.8v1.30h-3.8zM658.8 558.1h6.2v1.30h-6.2zM661.2 560.6h1.2v1.30h-1.2zM663.8 560.6h1.2v1.30h-1.2z" fill="#ffeaea"/>
<polygon points="671,575.6 684.4,572 700,577.8 704.4,589 700,600 686.7,597.8 673.3,586.7" fill="#ffffff"/>
<path d="M683.5 572.0h1.2v1.30h-1.2zM679.8 573.2h2.5v1.30h-2.5zM684.8 573.2h1.2v1.30h-1.2zM687.2 573.2h2.5v1.30h-2.5zM672.2 574.5h3.8v1.30h-3.8zM677.2 574.5h1.2v1.30h-1.2zM679.8 574.5h3.8v1.30h-3.8zM686.0 574.5h2.5v1.30h-2.5zM671.0 575.8h7.5v1.30h-7.5zM681.0 575.8h6.2v1.30h-6.2zM672.2 577.0h1.2v1.30h-1.2zM674.8 577.0h6.2v1.30h-6.2zM682.2 577.0h5.0v1.30h-5.0zM688.5 577.0h1.2v1.30h-1.2zM672.2 578.2h10.0v1.30h-10.0zM683.5 578.2h5.0v1.30h-5.0zM696.0 578.2h3.8v1.30h-3.8zM672.2 579.5h10.0v1.30h-10.0zM684.8 579.5h1.2v1.30h-1.2zM696.0 579.5h1.2v1.30h-1.2zM698.5 579.5h2.5v1.30h-2.5zM672.2 580.8h3.8v1.30h-3.8zM677.2 580.8h5.0v1.30h-5.0zM684.8 580.8h2.5v1.30h-2.5zM696.0 580.8h1.2v1.30h-1.2zM698.5 580.8h1.2v1.30h-1.2zM672.2 582.0h1.2v1.30h-1.2zM674.8 582.0h5.0v1.30h-5.0zM682.2 582.0h1.2v1.30h-1.2zM686.0 582.0h2.5v1.30h-2.5zM696.0 582.0h5.0v1.30h-5.0zM672.2 583.2h1.2v1.30h-1.2zM678.5 583.2h1.2v1.30h-1.2zM701.0 583.2h1.2v1.30h-1.2zM678.5 584.5h1.2v1.30h-1.2zM699.8 584.5h1.2v1.30h-1.2zM674.8 585.8h1.2v1.30h-1.2zM678.5 585.8h1.2v1.30h-1.2zM681.0 585.8h2.5v1.30h-2.5zM694.8 585.8h1.2v1.30h-1.2zM674.8 587.0h11.2v1.30h-11.2zM676.0 588.2h2.5v1.30h-2.5zM679.8 588.2h2.5v1.30h-2.5zM677.2 589.5h2.5v1.30h-2.5zM682.2 589.5h1.2v1.30h-1.2zM681.0 590.8h1.2v1.30h-1.2zM688.5 590.8h2.5v1.30h-2.5zM692.2 590.8h2.5v1.30h-2.5zM697.2 590.8h1.2v1.30h-1.2zM681.0 592.0h6.2v1.30h-6.2zM689.8 592.0h1.2v1.30h-1.2zM693.5 592.0h2.5v1.30h-2.5zM697.2 592.0h1.2v1.30h-1.2zM688.5 593.2h1.2v1.30h-1.2zM691.0 593.2h6.2v1.30h-6.2zM699.8 593.2h2.5v1.30h-2.5zM684.8 594.5h2.5v1.30h-2.5zM691.0 594.5h2.5v1.30h-2.5zM696.0 594.5h5.0v1.30h-5.0zM686.0 595.8h1.2v1.30h-1.2zM689.8 595.8h1.2v1.30h-1.2zM693.5 595.8h1.2v1.30h-1.2zM696.0 595.8h5.0v1.30h-5.0zM687.2 597.0h2.5v1.30h-2.5zM691.0 597.0h2.5v1.30h-2.5zM694.8 597.0h2.5v1.30h-2.5zM698.5 597.0h2.5v1.30h-2.5zM696.0 598.2h3.8v1.30h-3.8z" fill="#ffeaea"/>
<polygon points="464,394 474,393 490,399 496,394 494,403 476,404 466,399" fill="#ffffff"/>
<polygon points="259.5,265.3 259.6,266.7 259,268.3 257.7,269.8 255.8,271.2 253.5,272.2 251.1,272.9 248.8,273 246.8,272.7 245.3,271.9 244.5,270.7 244.4,269.3 245,267.7 246.3,266.2 248.2,264.8 250.5,263.8 252.9,263.1 255.2,263 257.2,263.3 258.7,264.1" fill="#ffffff"/>
<polygon points="792.7,545.3 798,541.3 802.7,542.7 802,550.7 798.7,556 796,549.3" fill="#ffeaea"/>
<polygon points="240,485 249,476 254,469 264,469 271,472 309,475 309,485 300,485 292,485.6 282,485.6 274,487 266,486.4 260,488.4 255,489.6 253,492.4 250,494 247,491.6 242,487.6" fill="#ffeaea"/>
<polygon points="289,422 298,421.5 300,427 308,425 310,427 306,430 300,433 298,438 292,441 288,443 284,446 280,449 279,444 274,438 279,436 286,433 290,429" fill="#ffeaea"/>
<polygon points="251,443 266,443.5 278,443 280,449 288,446 296,444 296,447 292,451 296,454 304,456 312,458 306,461 305,468 298,468 294,461 286,460 284,463 279,458 269,456 266,450 258,447" fill="#ffeaea"/>
<polygon points="266,465 270,461 276,460 278,466 271,470 267,468" fill="#ffeaea"/>
<polygon points="306,448 312,448 312,453 306,453" fill="#ffeaea"/>
<polygon points="284,450 290,447 293,452 290,456 285,455" fill="#ffd4d4"/>
<polygon points="288,439 296,434 300,430 308,425.5 309.5,427.5 302,432 298,437 290,440.5" fill="#ffbfbf"/>
<path d="M258.8 452.0h3.8v1.30h-3.8zM257.5 453.2h5.0v1.30h-5.0zM263.8 453.2h1.2v1.30h-1.2zM258.8 454.5h6.2v1.30h-6.2zM240.0 455.8h1.2v1.30h-1.2zM248.8 455.8h2.5v1.30h-2.5zM258.8 455.8h2.5v1.30h-2.5zM271.2 455.8h1.2v1.30h-1.2zM275.0 455.8h1.2v1.30h-1.2zM241.2 457.0h1.2v1.30h-1.2zM257.5 457.0h5.0v1.30h-5.0zM272.5 457.0h7.5v1.30h-7.5zM250.0 458.2h3.8v1.30h-3.8zM258.8 458.2h3.8v1.30h-3.8zM272.5 458.2h1.2v1.30h-1.2zM275.0 458.2h5.0v1.30h-5.0zM248.8 459.5h2.5v1.30h-2.5zM252.5 459.5h1.2v1.30h-1.2zM256.2 459.5h1.2v1.30h-1.2zM258.8 459.5h5.0v1.30h-5.0zM271.2 459.5h1.2v1.30h-1.2zM273.8 459.5h1.2v1.30h-1.2zM286.2 459.5h1.2v1.30h-1.2zM248.8 460.8h2.5v1.30h-2.5zM257.5 460.8h8.8v1.30h-8.8zM267.5 460.8h1.2v1.30h-1.2zM285.0 460.8h1.2v1.30h-1.2zM287.5 460.8h3.8v1.30h-3.8zM247.5 462.0h3.8v1.30h-3.8zM255.0 462.0h12.5v1.30h-12.5zM287.5 462.0h2.5v1.30h-2.5zM292.5 462.0h1.2v1.30h-1.2zM247.5 463.2h3.8v1.30h-3.8zM252.5 463.2h3.8v1.30h-3.8zM261.2 463.2h6.2v1.30h-6.2zM286.2 463.2h1.2v1.30h-1.2zM247.5 464.5h12.5v1.30h-12.5zM261.2 464.5h7.5v1.30h-7.5zM283.8 464.5h1.2v1.30h-1.2zM286.2 464.5h1.2v1.30h-1.2zM248.8 465.8h13.8v1.30h-13.8zM263.8 465.8h2.5v1.30h-2.5zM271.2 465.8h1.2v1.30h-1.2zM273.8 465.8h1.2v1.30h-1.2zM281.2 465.8h2.5v1.30h-2.5zM285.0 465.8h1.2v1.30h-1.2zM251.2 467.0h5.0v1.30h-5.0zM258.8 467.0h1.2v1.30h-1.2zM262.5 467.0h5.0v1.30h-5.0zM276.2 467.0h1.2v1.30h-1.2zM278.8 467.0h2.5v1.30h-2.5zM282.5 467.0h2.5v1.30h-2.5zM286.2 467.0h1.2v1.30h-1.2zM253.8 468.2h2.5v1.30h-2.5zM261.2 468.2h1.2v1.30h-1.2zM263.8 468.2h6.2v1.30h-6.2zM271.2 468.2h1.2v1.30h-1.2zM273.8 468.2h3.8v1.30h-3.8zM280.0 468.2h5.0v1.30h-5.0zM295.0 468.2h1.2v1.30h-1.2zM268.8 469.5h2.5v1.30h-2.5zM276.2 469.5h3.8v1.30h-3.8zM281.2 469.5h2.5v1.30h-2.5zM293.8 469.5h1.2v1.30h-1.2zM297.5 469.5h1.2v1.30h-1.2zM301.2 469.5h1.2v1.30h-1.2zM270.0 470.8h2.5v1.30h-2.5zM275.0 470.8h1.2v1.30h-1.2zM278.8 470.8h3.8v1.30h-3.8zM293.8 470.8h6.2v1.30h-6.2zM278.8 472.0h2.5v1.30h-2.5zM292.5 472.0h7.5v1.30h-7.5zM295.0 473.2h3.8v1.30h-3.8z" fill="#ffeaea"/>
<polygon points="232,381.5 231.7,383 230.9,384.4 229.5,385.5 227.9,386.3 226,386.5 224.1,386.3 222.5,385.5 221.1,384.4 220.3,383 220,381.5 220.3,380 221.1,378.6 222.5,377.5 224.1,376.7 226,376.5 227.9,376.7 229.5,377.5 230.9,378.6 231.7,380" fill="#ffeaea"/>
<polygon points="133,408 132.6,409.2 131.4,410.4 129.5,411.2 127.1,411.8 124.5,412 121.9,411.8 119.5,411.2 117.6,410.4 116.4,409.2 116,408 116.4,406.8 117.6,405.6 119.5,404.8 121.9,404.2 124.5,404 127.1,404.2 129.5,404.8 131.4,405.6 132.6,406.8" fill="#ffeaea"/>
<path d="M251.2 340.0h1.2v1.30h-1.2zM253.8 340.0h2.5v1.30h-2.5zM243.8 341.2h2.5v1.30h-2.5zM247.5 341.2h2.5v1.30h-2.5zM252.5 341.2h3.8v1.30h-3.8zM236.2 342.5h1.2v1.30h-1.2zM242.5 342.5h1.2v1.30h-1.2zM245.0 342.5h1.2v1.30h-1.2zM230.0 343.8h1.2v1.30h-1.2zM243.8 343.8h3.8v1.30h-3.8zM253.8 343.8h2.5v1.30h-2.5zM218.8 345.0h1.2v1.30h-1.2zM227.5 345.0h1.2v1.30h-1.2zM231.2 345.0h5.0v1.30h-5.0zM252.5 345.0h2.5v1.30h-2.5zM256.2 345.0h1.2v1.30h-1.2zM220.0 346.2h1.2v1.30h-1.2zM230.0 346.2h1.2v1.30h-1.2zM233.8 346.2h2.5v1.30h-2.5zM252.5 346.2h1.2v1.30h-1.2zM255.0 346.2h1.2v1.30h-1.2zM207.5 347.5h2.5v1.30h-2.5zM218.8 347.5h1.2v1.30h-1.2zM228.8 347.5h1.2v1.30h-1.2zM231.2 347.5h8.8v1.30h-8.8zM241.2 347.5h1.2v1.30h-1.2zM253.8 347.5h2.5v1.30h-2.5zM205.0 348.8h2.5v1.30h-2.5zM208.8 348.8h2.5v1.30h-2.5zM227.5 348.8h1.2v1.30h-1.2zM230.0 348.8h1.2v1.30h-1.2zM232.5 348.8h1.2v1.30h-1.2zM235.0 348.8h3.8v1.30h-3.8zM252.5 348.8h3.8v1.30h-3.8zM206.2 350.0h6.2v1.30h-6.2zM217.5 350.0h1.2v1.30h-1.2zM228.8 350.0h5.0v1.30h-5.0zM235.0 350.0h6.2v1.30h-6.2zM256.2 350.0h1.2v1.30h-1.2zM207.5 351.2h1.2v1.30h-1.2zM210.0 351.2h2.5v1.30h-2.5zM228.8 351.2h1.2v1.30h-1.2zM231.2 351.2h1.2v1.30h-1.2zM235.0 351.2h2.5v1.30h-2.5zM238.8 351.2h2.5v1.30h-2.5zM206.2 352.5h7.5v1.30h-7.5zM225.0 352.5h1.2v1.30h-1.2zM227.5 352.5h1.2v1.30h-1.2z" fill="#ffeaea"/>
<polygon points="210.5,421.5 213.5,421.5 213.5,424.5 210.5,424.5" fill="#ffbfbf"/>
<polygon points="205,424.5 207,424.5 207,426.5 205,426.5" fill="#ffd4d4"/>
<polygon points="350,376 364,375 362,380 352,380" fill="#ffeaea"/>
<polygon points="325.3,416.7 332,413.3 349.3,413.3 350.7,416 348,420 333.3,420 326.7,418.7" fill="#ffeaea"/>
<polygon points="358.7,413 366,413 366,415.3 358.7,415.3" fill="#ffd4d4"/>
<polygon points="349.3,416 356,415.3 365.3,418.7 366.7,422.7 377.3,422.7 377.3,426 366.7,425.3 361.3,422 349.3,422" fill="#ffaaaa"/>
<polygon points="373,423 377.3,423 377.3,426 373,426" fill="#ff9595"/>
<polygon points="358.7,430 362,430 362,432.7 358.7,432.7" fill="#ffeaea"/>
<polygon points="356.7,439.3 361.3,439.3 361.3,440.7 356.7,440.7" fill="#ffeaea"/>
<polygon points="364,441.3 366.7,441.3 366.7,443.3 364,443.3" fill="#ffeaea"/>
<polygon points="517,476 524,471 536,472 541,478 538,486 524,484 518,490 514,488" fill="#ffeaea"/>
<polygon points="548,473 560,466 574,464 576,469 564,473 562,478 558,475 550,476" fill="#ffeaea"/>
<polygon points="581.6,464 591.3,464 591.3,468.4 581.6,468.4" fill="#ffeaea"/>
<polygon points="603.8,464.9 616.2,464.9 616.2,468.4 603.8,468.4" fill="#ffeaea"/>
<polygon points="427.6,462.7 435.6,461.8 437.3,456.4 440,452 445.3,452.9 443.6,457.3 444.4,461.8 446.2,462.7 443.6,467.1 439.1,464.4 430.2,464.4" fill="#ffeaea"/>
<polygon points="436,462 438,456 441,453 444.5,453.5 442.6,457.3 443.4,462 442,465 439.1,463.4" fill="#ffd4d4"/>
<polygon points="474,446 481,446 481,450.5 474,450.5" fill="#ffeaea"/>
<polygon points="475.5,456.7 482,456.7 482,457.9 475.5,457.9" fill="#ffeaea"/>
<polygon points="412,450.7 416,448 422.7,449.3 428,453.3 429.3,458.7 426.7,464 421.3,468 414.7,470.7 408,469.3 402.7,465.3 402.7,462.7 409.3,462 413.3,458.7" fill="#ffd4d4"/>
<polygon points="413.5,451.5 417,449.5 422,450.5 426.5,454 427.5,458.7 425,463.5 420.5,467 414.7,469.3 408.5,468 405,465 410,463.5 414.5,459.5" fill="#ffbfbf"/>
<polygon points="425,455 424.7,456.3 423.9,457.5 422.7,458.4 421.2,459 419.5,459.2 417.8,459 416.3,458.4 415.1,457.5 414.3,456.3 414,455 414.3,453.7 415.1,452.5 416.3,451.6 417.8,451 419.5,450.8 421.2,451 422.7,451.6 423.9,452.5 424.7,453.7" fill="#ffaaaa"/>
<polygon points="419.5,466 419.2,466.8 418.4,467.5 417,468.1 415.4,468.5 413.5,468.6 411.6,468.5 410,468.1 408.6,467.5 407.8,466.8 407.5,466 407.8,465.2 408.6,464.5 410,463.9 411.6,463.5 413.5,463.4 415.4,463.5 417,463.9 418.4,464.5 419.2,465.2" fill="#ffaaaa"/>
<polygon points="284.3,349 287,346.7 288,348.7 289.3,354 292,352.3 297.3,353.3 299.3,356.7 302,358 302.7,360.7 299.3,365.3 296.7,368 292,369.3 288.7,368.7 286.7,365.3 285.3,362 285.7,356.7 285,352" fill="#d4d4ff"/>
<polygon points="285,350 287,348 289,354.5 292,353.3 297,354.3 298.6,357.3 301.2,358.7 301.6,360.7 298.6,364.8 296.2,367.2 292,368.4 289.2,367.8 287.4,365 286.2,362 286.4,356.7" fill="#bfbfff"/>
<polygon points="285.7,356 292.7,355.3 295,358.7 292.7,362 286.7,362.7 285.2,360.7" fill="#aaaaff"/>
<polygon points="278,362.7 280,362 283.3,366 286,367.3 285.3,369.3 282,368.7 278.7,365.3" fill="#bfbfff"/>
<polygon points="313,408.5 322.7,408.5 322.7,416 313,416" fill="#eaeaff"/>
<polygon points="323.3,461.3 328,460.7 329.3,464 348,464 348.7,472 340,472.7 338.7,476 329.3,475.3 324,470.7" fill="#d4d4ff"/>
<path d="M324.6 460.7h1.2v1.30h-1.2zM327.1 460.7h1.2v1.30h-1.2zM325.8 461.9h1.2v1.30h-1.2zM328.3 463.2h1.2v1.30h-1.2zM324.6 464.4h1.2v1.30h-1.2zM327.1 464.4h1.2v1.30h-1.2zM344.6 464.4h1.2v1.30h-1.2zM323.3 465.7h2.5v1.30h-2.5zM324.6 466.9h3.8v1.30h-3.8zM332.1 466.9h1.2v1.30h-1.2zM338.3 466.9h1.2v1.30h-1.2zM347.1 466.9h1.2v1.30h-1.2zM323.3 468.2h2.5v1.30h-2.5zM327.1 468.2h1.2v1.30h-1.2zM330.8 468.2h1.2v1.30h-1.2zM324.6 469.4h3.8v1.30h-3.8zM330.8 469.4h2.5v1.30h-2.5zM337.1 469.4h1.2v1.30h-1.2zM324.6 470.7h1.2v1.30h-1.2zM327.1 470.7h2.5v1.30h-2.5zM330.8 470.7h2.5v1.30h-2.5zM337.1 470.7h1.2v1.30h-1.2zM343.3 470.7h1.2v1.30h-1.2zM345.8 470.7h2.5v1.30h-2.5zM328.3 471.9h2.5v1.30h-2.5zM330.8 473.2h1.2v1.30h-1.2zM337.1 473.2h2.5v1.30h-2.5zM329.6 474.4h7.5v1.30h-7.5zM338.3 474.4h1.2v1.30h-1.2z" fill="#ffffff"/>
<polygon points="353.3,472 358.7,468.7 365.3,467.7 366,469.3 360,471.3 354,473.3" fill="#ffaaaa"/>
<polygon points="370.4,444 373.3,444.7 376.7,446.7 376,448 372,447.3 370.4,446" fill="#ff0000"/>
<polygon points="373.9,443 375.7,443 375.7,444.7 373.9,444.7" fill="#8080ff"/>
<polygon points="373,461 374.2,461 374.2,465.3 373,465.3" fill="#aaaaff"/>
<polygon points="388,462 394.7,457.3 398,458.7 398.7,462.7 390.7,464.7" fill="#eaeaff"/>
<polygon points="467.1,468.9 470.2,468 473.8,471.6 476.4,468.9 479.1,469.8 478.2,473.3 474.7,477.8 472.9,476.9 468.4,475.1" fill="#eaeaff"/>
<polygon points="471,462.2 475.6,462.2 475.6,464.4 471,464.4" fill="#eaeaff"/>
<polygon points="549.5,522.5 552,522.5 552,527 549.5,527" fill="#ffbfbf"/>
<polygon points="545.6,526 556.6,526 556.6,530 545.6,530" fill="#ff9595"/>
<polygon points="546.6,526.8 555.4,526.8 555.4,529.4 546.6,529.4" fill="#ff4040"/>
<polygon points="566,458.5 567.2,458.5 567.2,462 566,462" fill="#ff9595"/>
<polygon points="649,467 650.6,467 650.6,470 649,470" fill="#bfbfff"/>
</g>
<g clip-path="url(#ax)" fill="none" stroke="#000" stroke-width="1.5" stroke-linejoin="round" stroke-linecap="round">
<polyline points="112,415.8 120,423 130,427.6 135,428 140,434 142,442 144,448 148,455 152,459 157,460 164,465 172,470 178,471.4 181,470.4 187,473 194,474.4 202,478 210,480 218,483 222,483 230,484.4 238,485.6 242,487.6 247,491.6 250,494 253,492.4 255,489.6 260,488.4 266,486.4 274,487 282,485.6 292,485.6 300,485 308,484.6 314,485.2 320,488 326,492.4 331,497 335,502 340,510 344,518 347,525 349,530 351.4,533 350.8,539.8 347,542.8 342.8,545.9 342.2,549.6 345.3,553.8 346.5,556.3 351.4,556.3 356.3,556.3 360,558.7 365.5,561.2 371.6,563.6 376.5,565.5 378.3,562.4 378.9,559.3 381.3,556.3 383.8,553.8 387.5,552.4 393.6,551.2 400.7,551.1 405.8,551.8 413.1,553.8 419.2,556.9 423.5,558.4 429,562.4 435.1,568.5 441,573.6 450,580 459,585.6 467.8,589.3 476.7,593 483.3,597.8 490,602.7 496.7,605 503.3,611 510,619 513.3,624 517.8,623.6 524.4,626 532,632 539,639 542,642.7 547.8,644.4 556.7,650 565.6,657.8 574.4,666.7 582,675.5"/>
<polygon points="298.9,619.4 306.7,620.6 315.6,620 318.9,623.3 323.3,626.1 326.1,628.3 328.9,627.2 334.4,630 338.9,632.2 344.4,632.8 350,635 353.9,637.2 356.7,637.8 357.2,641.7 361.1,645.6 365.6,650 369.4,652.8 372.2,657.2 372,660.6 368.9,662.8 365.6,663 361.1,660.6 356.7,658.9 351.1,658.1 344.4,658.9 338.9,658.3 333.3,656.1 329.4,652.8 327.8,648.9 328.9,645 330,642.8 328.9,638.3 327.2,633.9 323.3,631.7 321.7,633.3 317.8,631.7 313.3,631.1 310,631.1 307.2,629.4 305.6,627.2 302.2,623.9 300,621.7"/>
<polygon points="192.5,618 197.5,617 198,621 195.5,624.5 193,622"/>
<polyline points="375.8,553.1 382.9,551.1"/>
<polyline points="378.9,550 378.7,559.6 377.1,563.1" stroke-width="2.4"/>
<polyline points="380.7,551.1 387.8,549.6 394,549.1 394.9,551.1"/>
<polyline points="380.4,557.3 383.3,554.2 387.8,552.9 391.3,552.2"/>
<polyline points="386,555.1 389.6,556.4 392.2,555.1" stroke-width="2"/>
<polygon points="394.6,552 400.5,552.6 400.7,557 395.3,557.3" stroke-width="1.6" fill="#000"/>
<polygon points="139.4,433.6 141.4,436.6 138.8,437.2" stroke-width="1.2" fill="#000"/>
<polygon points="335.6,498.8 338.4,500.2 336.6,503" stroke-width="1.2" fill="#000"/>
<polyline points="422.6,557.6 424.2,559" stroke-width="2.2"/>
</g>
<g stroke="#000" stroke-width="1.25" stroke-dasharray="1.25,1.25" fill="none">
<line x1="112.9" y1="454.55" x2="810.4" y2="454.55"/>
<line x1="461.0" y1="234.4" x2="461.0" y2="675"/>
<line x1="112.9" y1="674.7" x2="810.4" y2="674.7"/>
</g>
<rect x="112.9" y="234.4" width="697.5" height="440.6" fill="none" stroke="#000" stroke-width="1"/>
<g filter="url(#gr)">
<text x="461.3" y="226.3" font-size="15.05" text-anchor="middle">diff between cvmsi and cvmsi+taper Z1.0</text>
<g font-size="12.4">
<text x="104.6" y="237.9" text-anchor="end">35.08°N</text>
<text x="104.6" y="458.2" text-anchor="end">34.165°N</text>
<text x="104.6" y="678.4" text-anchor="end">33.25°N</text>
<text x="112.9" y="691.8" text-anchor="middle">119.38°W</text>
<text x="461.5" y="691.8" text-anchor="middle">117.935°W</text>
<text x="809.6" y="691.8" text-anchor="middle">116.49°W</text>
</g>
</g>
<g shape-rendering="crispEdges">
<rect x="112.90" y="837.4" width="28.40" height="18.1" fill="#0000ff"/>
<rect x="140.80" y="837.4" width="28.40" height="18.1" fill="#1515ff"/>
<rect x="168.70" y="837.4" width="28.40" height="18.1" fill="#2a2aff"/>
<rect x="196.60" y="837.4" width="28.40" height="18.1" fill="#4040ff"/>
<rect x="224.50" y="837.4" width="28.40" height="18.1" fill="#5555ff"/>
<rect x="252.40" y="837.4" width="28.40" height="18.1" fill="#6a6aff"/>
<rect x="280.30" y="837.4" width="28.40" height="18.1" fill="#8080ff"/>
<rect x="308.20" y="837.4" width="28.40" height="18.1" fill="#9595ff"/>
<rect x="336.10" y="837.4" width="28.40" height="18.1" fill="#aaaaff"/>
<rect x="364.00" y="837.4" width="28.40" height="18.1" fill="#bfbfff"/>
<rect x="391.90" y="837.4" width="28.40" height="18.1" fill="#d4d4ff"/>
<rect x="419.80" y="837.4" width="28.40" height="18.1" fill="#eaeaff"/>
<rect x="447.70" y="837.4" width="28.40" height="18.1" fill="#ffffff"/>
<rect x="475.60" y="837.4" width="28.40" height="18.1" fill="#ffeaea"/>
<rect x="503.50" y="837.4" width="28.40" height="18.1" fill="#ffd4d4"/>
<rect x="531.40" y="837.4" width="28.40" height="18.1" fill="#ffbfbf"/>
<rect x="559.30" y="837.4" width="28.40" height="18.1" fill="#ffaaaa"/>
<rect x="587.20" y="837.4" width="28.40" height="18.1" fill="#ff9595"/>
<rect x="615.10" y="837.4" width="28.40" height="18.1" fill="#ff8080"/>
<rect x="643.00" y="837.4" width="28.40" height="18.1" fill="#ff6a6a"/>
<rect x="670.90" y="837.4" width="28.40" height="18.1" fill="#ff5555"/>
<rect x="698.80" y="837.4" width="28.40" height="18.1" fill="#ff4040"/>
<rect x="726.70" y="837.4" width="28.40" height="18.1" fill="#ff2b2b"/>
<rect x="754.60" y="837.4" width="28.40" height="18.1" fill="#ff1515"/>
<rect x="782.50" y="837.4" width="27.90" height="18.1" fill="#ff0000"/>
</g>
<rect x="112.9" y="837.4" width="697.5" height="18.1" fill="none" stroke="#000" stroke-width="1"/>
<g stroke="#000" stroke-width="1">
<line x1="112.90" y1="855.5" x2="112.90" y2="859.9"/>
<line x1="252.40" y1="855.5" x2="252.40" y2="859.9"/>
<line x1="391.90" y1="855.5" x2="391.90" y2="859.9"/>
<line x1="531.40" y1="855.5" x2="531.40" y2="859.9"/>
<line x1="670.90" y1="855.5" x2="670.90" y2="859.9"/>
<line x1="810.40" y1="855.5" x2="810.40" y2="859.9"/>
</g>
<g filter="url(#gr)" font-size="12.4">
<text x="112.90" y="873.7" text-anchor="middle">−0.520</text>
<text x="252.40" y="873.7" text-anchor="middle">−0.312</text>
<text x="391.90" y="873.7" text-anchor="middle">−0.104</text>
<text x="531.40" y="873.7" text-anchor="middle">0.104</text>
<text x="670.90" y="873.7" text-anchor="middle">0.312</text>
<text x="810.40" y="873.7" text-anchor="middle">0.520</text>
<text x="461.5" y="891.4" font-size="12.5" text-anchor="middle">Vs (km/s)</text>
</g>
</svg></body></html>
